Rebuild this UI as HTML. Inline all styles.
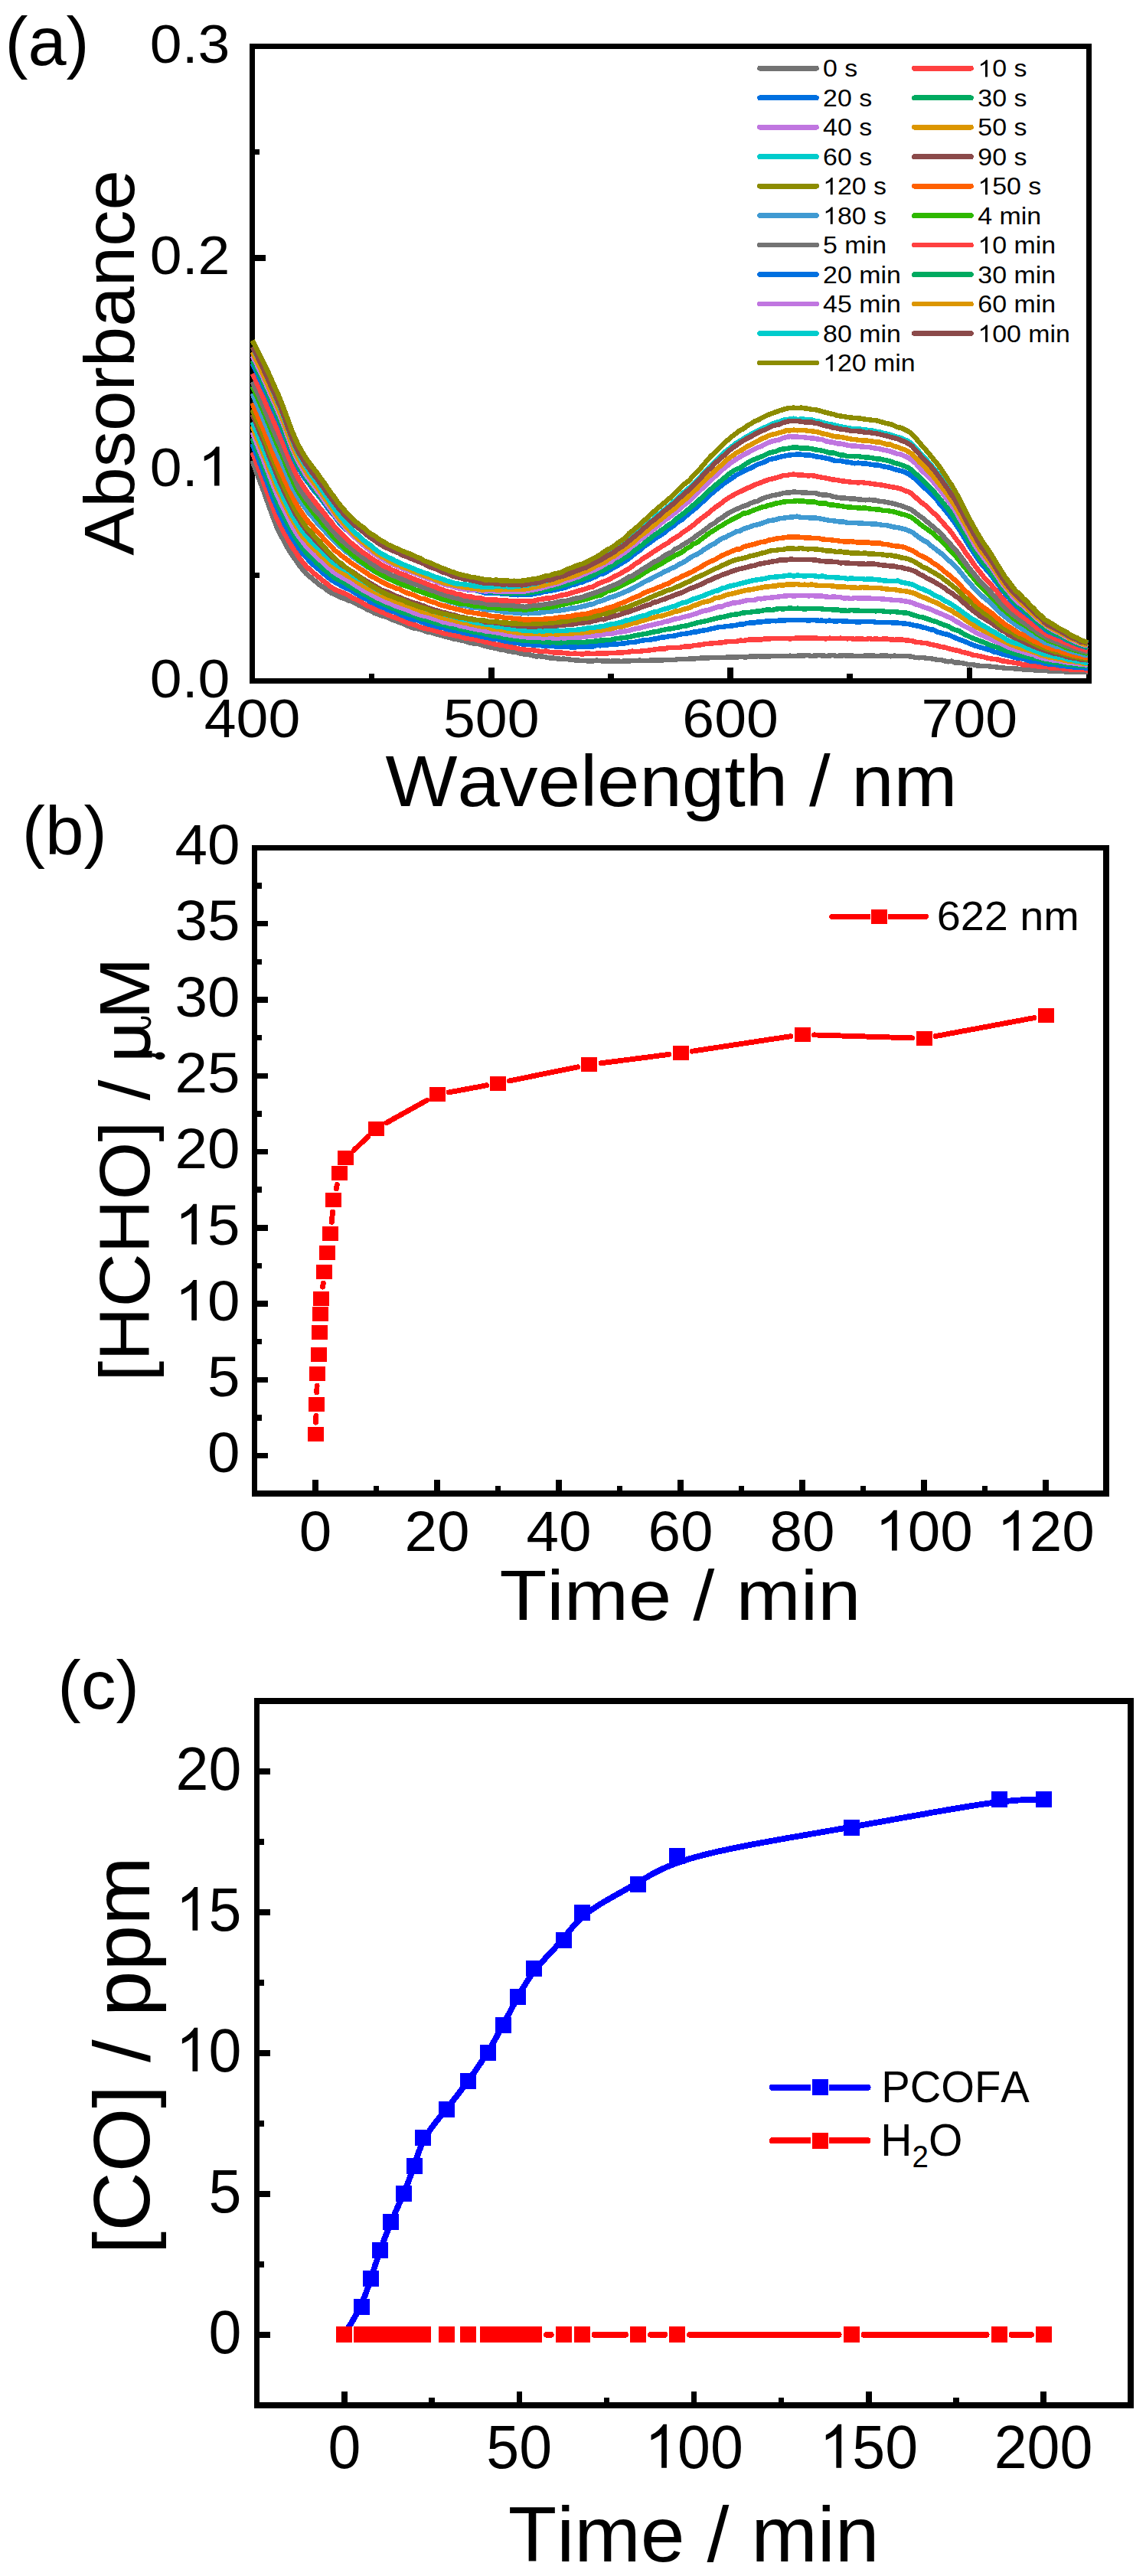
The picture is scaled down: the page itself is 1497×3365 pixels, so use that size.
<!DOCTYPE html><html><head><meta charset="utf-8"><style>html,body{margin:0;padding:0;background:#fff;}svg{display:block;}text{font-family:"Liberation Sans",sans-serif;font-kerning:none;font-variant-ligatures:none;fill:#000;}</style></head><body>
<svg width="1497" height="3365" viewBox="0 0 1497 3365" shape-rendering="crispEdges">
<rect width="1497" height="3365" fill="#fff"/>
<rect x="329.50" y="60.50" width="1093.00" height="829.00" fill="none" stroke="#000" stroke-width="7.50" stroke-linejoin="miter"/>
<rect x="638.04" y="871.75" width="7.50" height="17.75"/>
<rect x="950.32" y="871.75" width="7.50" height="17.75"/>
<rect x="1262.61" y="871.75" width="7.50" height="17.75"/>
<rect x="481.89" y="879.75" width="7.50" height="9.75"/>
<rect x="794.18" y="879.75" width="7.50" height="9.75"/>
<rect x="1106.46" y="879.75" width="7.50" height="9.75"/>
<rect x="329.50" y="609.42" width="17.75" height="7.50"/>
<rect x="329.50" y="333.08" width="17.75" height="7.50"/>
<rect x="329.50" y="747.58" width="9.75" height="7.50"/>
<rect x="329.50" y="471.25" width="9.75" height="7.50"/>
<rect x="329.50" y="194.92" width="9.75" height="7.50"/>
<g transform="translate(300.40,910.84) scale(1.0550,1)"><text x="-99.12" y="0.00" font-size="71.30">0.0</text></g>
<g transform="translate(300.40,634.51) scale(1.0550,1)"><text x="-99.12" y="0.00" font-size="71.30">0.</text><path shape-rendering="geometricPrecision" transform="translate(-39.65,0.00) scale(0.03481,-0.03481)" d="M763,0L583,0L583,1147Q520,1087 418,1027Q316,967 222,930L222,1104Q370,1173 481,1274Q592,1375 646,1466L763,1466Z"/></g>
<g transform="translate(300.40,358.17) scale(1.0550,1)"><text x="-99.12" y="0.00" font-size="71.30">0.2</text></g>
<g transform="translate(300.40,81.84) scale(1.0550,1)"><text x="-99.12" y="0.00" font-size="71.30">0.3</text></g>
<g transform="translate(329.50,962.70) scale(1.0550,1)"><text x="-59.48" y="0.00" font-size="71.30">400</text></g>
<g transform="translate(641.79,962.70) scale(1.0550,1)"><text x="-59.48" y="0.00" font-size="71.30">500</text></g>
<g transform="translate(954.07,962.70) scale(1.0550,1)"><text x="-59.48" y="0.00" font-size="71.30">600</text></g>
<g transform="translate(1266.36,962.70) scale(1.0550,1)"><text x="-59.48" y="0.00" font-size="71.30">700</text></g>
<g transform="translate(503.56,1053.10) scale(1.0593,1)"><text x="0.00" y="0.00" font-size="93.98">Wavelength / nm</text></g>
<g transform="translate(175.09,725.68) rotate(-90) scale(1.0162,1)"><text x="0.00" y="0.00" font-size="92.87">Absorbance</text></g>
<g transform="translate(6.41,84.56) scale(1.0119,1)"><text x="0.00" y="0.00" font-size="89.09">(a)</text></g>
<g fill="none" stroke-width="6.5" stroke-linejoin="round" stroke-linecap="butt">
<polyline stroke="#737373" points="329.5,601.6 334.2,614.8 338.9,627.2 343.6,639.6 348.2,652.6 352.9,665.5 357.6,678.3 362.3,690.4 367.0,699.4 371.7,708.3 376.3,716.8 381.0,724.1 385.7,730.9 390.4,737.8 395.1,743.8 399.8,749.3 404.4,753.0 409.1,757.1 413.8,760.7 418.5,764.9 423.2,767.5 427.9,771.4 432.6,774.6 437.2,776.3 441.9,778.9 446.6,781.0 451.3,782.3 456.0,784.8 460.7,785.9 465.3,788.7 470.0,791.2 474.7,793.0 479.4,796.2 484.1,797.7 488.8,800.6 493.4,802.2 498.1,804.3 502.8,805.3 507.5,807.1 512.2,809.6 516.9,811.0 521.6,813.1 526.2,814.6 530.9,816.8 535.6,818.8 540.3,820.4 545.0,821.2 549.7,822.1 554.3,824.1 559.0,825.7 563.7,826.2 568.4,828.0 573.1,829.3 577.8,830.4 582.5,831.7 587.1,832.9 591.8,834.4 596.5,834.9 601.2,836.2 605.9,836.9 610.6,838.5 615.2,840.0 619.9,840.5 624.6,840.9 629.3,842.6 634.0,843.9 638.7,845.0 643.3,846.1 648.0,846.9 652.7,848.3 657.4,848.5 662.1,850.2 666.8,851.1 671.5,851.6 676.1,852.5 680.8,853.9 685.5,854.5 690.2,855.1 694.9,856.1 699.6,857.4 704.2,857.2 708.9,857.7 713.6,858.5 718.3,859.5 723.0,859.7 727.7,860.3 732.3,860.8 737.0,860.7 741.7,861.1 746.4,861.9 751.1,862.3 755.8,862.6 760.5,863.1 765.1,863.2 769.8,863.5 774.5,863.4 779.2,862.6 783.9,863.1 788.6,863.6 793.2,863.6 797.9,863.8 802.6,863.4 807.3,863.4 812.0,864.0 816.7,863.3 821.4,863.6 826.0,862.9 830.7,863.2 835.4,862.6 840.1,863.2 844.8,863.0 849.5,862.6 854.1,862.3 858.8,862.3 863.5,862.7 868.2,862.1 872.9,862.0 877.6,861.9 882.2,861.8 886.9,860.8 891.6,861.2 896.3,861.2 901.0,860.4 905.7,860.4 910.4,860.2 915.0,859.7 919.7,859.6 924.4,859.5 929.1,859.1 933.8,859.1 938.5,859.2 943.1,859.0 947.8,858.8 952.5,858.4 957.2,858.6 961.9,858.7 966.6,857.9 971.2,858.3 975.9,858.3 980.6,857.4 985.3,857.7 990.0,857.2 994.7,857.4 999.4,857.5 1004.0,857.5 1008.7,857.1 1013.4,857.0 1018.1,857.1 1022.8,856.8 1027.5,857.2 1032.1,856.6 1036.8,857.2 1041.5,856.7 1046.2,856.4 1050.9,856.3 1055.6,856.0 1060.2,857.1 1064.9,856.4 1069.6,856.2 1074.3,856.3 1079.0,856.9 1083.7,856.5 1088.4,856.0 1093.0,857.1 1097.7,856.5 1102.4,856.2 1107.1,856.8 1111.8,856.4 1116.5,857.0 1121.1,856.9 1125.8,856.9 1130.5,856.6 1135.2,856.7 1139.9,856.4 1144.6,857.0 1149.2,856.8 1153.9,856.4 1158.6,856.6 1163.3,857.3 1168.0,856.6 1172.7,857.1 1177.4,856.9 1182.0,857.1 1186.7,857.1 1191.4,857.9 1196.1,859.0 1200.8,859.3 1205.5,859.0 1210.1,859.8 1214.8,859.9 1219.5,860.9 1224.2,861.8 1228.9,861.9 1233.6,863.2 1238.3,864.3 1242.9,863.7 1247.6,865.7 1252.3,865.6 1257.0,866.2 1261.7,867.2 1266.4,868.3 1271.0,868.0 1275.7,869.3 1280.4,869.8 1285.1,870.0 1289.8,870.1 1294.5,870.7 1299.1,871.0 1303.8,871.8 1308.5,872.1 1313.2,872.9 1317.9,873.0 1322.6,873.0 1327.3,873.7 1331.9,873.8 1336.6,874.5 1341.3,874.8 1346.0,874.9 1350.7,875.3 1355.4,875.3 1360.0,875.8 1364.7,875.5 1369.4,876.4 1374.1,876.7 1378.8,877.1 1383.5,877.0 1388.1,877.0 1392.8,877.6 1397.5,877.5 1402.2,877.4 1406.9,877.9 1411.6,878.1 1416.3,877.7 1420.9,878.1"/>
<polyline stroke="#FF4040" points="329.5,591.0 334.2,603.0 338.9,615.4 343.6,628.2 348.2,640.7 352.9,653.4 357.6,666.2 362.3,678.4 367.0,687.3 371.7,696.8 376.3,705.1 381.0,713.6 385.7,720.2 390.4,727.7 395.1,733.8 399.8,739.5 404.4,743.8 409.1,748.0 413.8,751.9 418.5,755.6 423.2,759.6 427.9,763.1 432.6,767.0 437.2,770.0 441.9,771.9 446.6,773.8 451.3,775.6 456.0,777.9 460.7,781.2 465.3,783.0 470.0,785.2 474.7,788.3 479.4,791.0 484.1,793.1 488.8,795.5 493.4,797.3 498.1,799.6 502.8,801.1 507.5,803.4 512.2,805.6 516.9,807.0 521.6,808.7 526.2,811.0 530.9,812.7 535.6,815.0 540.3,815.5 545.0,817.6 549.7,819.5 554.3,820.8 559.0,821.6 563.7,822.6 568.4,824.1 573.1,825.1 577.8,826.8 582.5,828.0 587.1,828.4 591.8,829.6 596.5,830.9 601.2,831.5 605.9,833.2 610.6,834.0 615.2,834.5 619.9,835.2 624.6,836.7 629.3,837.1 634.0,838.8 638.7,839.4 643.3,840.5 648.0,842.0 652.7,842.4 657.4,843.1 662.1,844.4 666.8,845.3 671.5,845.6 676.1,847.3 680.8,848.1 685.5,848.5 690.2,849.2 694.9,849.0 699.6,849.8 704.2,850.7 708.9,851.1 713.6,850.4 718.3,851.9 723.0,852.3 727.7,852.3 732.3,852.5 737.0,853.0 741.7,853.6 746.4,854.0 751.1,853.6 755.8,854.0 760.5,854.6 765.1,853.7 769.8,853.7 774.5,853.9 779.2,853.7 783.9,853.4 788.6,853.6 793.2,853.6 797.9,852.8 802.6,853.2 807.3,852.4 812.0,852.7 816.7,852.0 821.4,851.7 826.0,850.7 830.7,851.2 835.4,850.9 840.1,850.2 844.8,849.9 849.5,849.3 854.1,848.6 858.8,848.0 863.5,847.3 868.2,847.7 872.9,846.1 877.6,845.8 882.2,846.1 886.9,846.2 891.6,845.0 896.3,844.4 901.0,844.6 905.7,843.3 910.4,842.8 915.0,842.5 919.7,841.4 924.4,840.8 929.1,840.7 933.8,840.0 938.5,839.7 943.1,839.3 947.8,838.5 952.5,837.9 957.2,837.8 961.9,837.9 966.6,836.6 971.2,837.0 975.9,836.1 980.6,835.2 985.3,835.5 990.0,835.6 994.7,835.5 999.4,834.3 1004.0,834.5 1008.7,834.1 1013.4,833.8 1018.1,833.9 1022.8,833.8 1027.5,833.9 1032.1,834.5 1036.8,833.9 1041.5,833.5 1046.2,833.5 1050.9,833.4 1055.6,833.6 1060.2,833.5 1064.9,833.4 1069.6,834.0 1074.3,833.9 1079.0,834.4 1083.7,833.7 1088.4,834.0 1093.0,834.0 1097.7,833.7 1102.4,833.9 1107.1,834.3 1111.8,834.1 1116.5,834.9 1121.1,834.3 1125.8,834.4 1130.5,835.1 1135.2,834.1 1139.9,834.9 1144.6,834.5 1149.2,835.0 1153.9,834.6 1158.6,834.6 1163.3,835.4 1168.0,835.8 1172.7,835.5 1177.4,835.4 1182.0,836.2 1186.7,836.7 1191.4,837.0 1196.1,838.8 1200.8,838.9 1205.5,840.0 1210.1,840.2 1214.8,841.5 1219.5,842.6 1224.2,843.4 1228.9,844.9 1233.6,845.5 1238.3,846.9 1242.9,848.0 1247.6,849.3 1252.3,850.1 1257.0,851.8 1261.7,852.8 1266.4,854.0 1271.0,855.6 1275.7,856.2 1280.4,857.3 1285.1,858.3 1289.8,859.5 1294.5,860.4 1299.1,861.0 1303.8,861.5 1308.5,863.4 1313.2,863.8 1317.9,864.9 1322.6,865.3 1327.3,866.2 1331.9,866.6 1336.6,868.5 1341.3,868.4 1346.0,869.2 1350.7,869.6 1355.4,870.4 1360.0,870.9 1364.7,871.0 1369.4,871.1 1374.1,873.1 1378.8,872.7 1383.5,872.9 1388.1,873.3 1392.8,873.8 1397.5,874.5 1402.2,874.7 1406.9,874.4 1411.6,874.6 1416.3,875.1 1420.9,875.6"/>
<polyline stroke="#0070E0" points="329.5,579.7 334.2,591.9 338.9,603.7 343.6,615.9 348.2,628.4 352.9,640.9 357.6,653.8 362.3,664.7 367.0,674.6 371.7,684.8 376.3,693.1 381.0,701.8 385.7,708.9 390.4,716.0 395.1,722.8 399.8,727.8 404.4,733.1 409.1,737.6 413.8,741.7 418.5,745.6 423.2,749.8 427.9,753.7 432.6,757.6 437.2,760.2 441.9,762.8 446.6,765.6 451.3,768.2 456.0,769.9 460.7,772.4 465.3,775.5 470.0,778.5 474.7,780.7 479.4,782.9 484.1,786.5 488.8,788.0 493.4,790.5 498.1,792.9 502.8,794.5 507.5,797.0 512.2,798.4 516.9,799.9 521.6,802.1 526.2,804.2 530.9,806.3 535.6,807.8 540.3,809.7 545.0,810.1 549.7,812.2 554.3,813.9 559.0,815.4 563.7,816.6 568.4,817.7 573.1,819.3 577.8,819.5 582.5,821.5 587.1,822.7 591.8,823.5 596.5,824.2 601.2,825.3 605.9,826.9 610.6,827.6 615.2,828.6 619.9,829.4 624.6,830.4 629.3,831.7 634.0,832.7 638.7,833.2 643.3,834.5 648.0,834.6 652.7,835.9 657.4,837.2 662.1,837.8 666.8,838.7 671.5,839.4 676.1,839.8 680.8,841.2 685.5,841.9 690.2,841.7 694.9,842.3 699.6,842.6 704.2,842.9 708.9,843.4 713.6,843.4 718.3,844.2 723.0,844.1 727.7,844.6 732.3,844.9 737.0,844.5 741.7,844.6 746.4,845.6 751.1,845.4 755.8,844.9 760.5,844.5 765.1,844.9 769.8,844.5 774.5,844.6 779.2,843.0 783.9,843.3 788.6,842.8 793.2,842.5 797.9,841.9 802.6,841.6 807.3,841.4 812.0,840.6 816.7,840.3 821.4,839.2 826.0,839.2 830.7,838.5 835.4,837.4 840.1,836.4 844.8,836.1 849.5,835.6 854.1,834.7 858.8,834.1 863.5,832.6 868.2,832.3 872.9,831.4 877.6,830.9 882.2,830.4 886.9,829.0 891.6,828.1 896.3,827.6 901.0,826.9 905.7,825.7 910.4,825.3 915.0,824.0 919.7,823.5 924.4,822.7 929.1,821.3 933.8,820.5 938.5,819.2 943.1,819.1 947.8,818.2 952.5,817.8 957.2,817.3 961.9,816.7 966.6,815.3 971.2,815.3 975.9,814.0 980.6,813.4 985.3,813.5 990.0,812.4 994.7,812.4 999.4,811.7 1004.0,811.7 1008.7,811.0 1013.4,811.3 1018.1,810.5 1022.8,810.6 1027.5,810.2 1032.1,809.8 1036.8,809.9 1041.5,810.0 1046.2,809.8 1050.9,809.9 1055.6,810.7 1060.2,810.1 1064.9,810.2 1069.6,810.8 1074.3,810.6 1079.0,811.4 1083.7,810.6 1088.4,811.3 1093.0,811.4 1097.7,811.1 1102.4,811.7 1107.1,811.6 1111.8,812.2 1116.5,812.2 1121.1,812.5 1125.8,812.2 1130.5,811.9 1135.2,812.2 1139.9,812.1 1144.6,812.9 1149.2,813.0 1153.9,813.0 1158.6,812.9 1163.3,813.2 1168.0,813.5 1172.7,813.6 1177.4,814.2 1182.0,814.7 1186.7,814.9 1191.4,816.3 1196.1,817.2 1200.8,817.9 1205.5,819.5 1210.1,820.5 1214.8,822.2 1219.5,822.7 1224.2,825.5 1228.9,826.7 1233.6,828.2 1238.3,828.9 1242.9,831.0 1247.6,833.0 1252.3,835.2 1257.0,836.6 1261.7,838.6 1266.4,840.6 1271.0,842.6 1275.7,844.2 1280.4,845.4 1285.1,846.8 1289.8,848.2 1294.5,849.7 1299.1,851.7 1303.8,852.6 1308.5,854.4 1313.2,855.4 1317.9,856.5 1322.6,858.1 1327.3,859.3 1331.9,859.6 1336.6,860.7 1341.3,862.0 1346.0,863.8 1350.7,863.8 1355.4,864.5 1360.0,865.2 1364.7,866.6 1369.4,867.4 1374.1,867.9 1378.8,868.1 1383.5,869.3 1388.1,869.5 1392.8,870.3 1397.5,870.5 1402.2,871.5 1406.9,871.3 1411.6,872.0 1416.3,872.3 1420.9,872.4"/>
<polyline stroke="#00AA60" points="329.5,571.9 334.2,584.8 338.9,595.8 343.6,607.9 348.2,620.3 352.9,632.4 357.6,645.1 362.3,656.2 367.0,667.0 371.7,676.6 376.3,684.9 381.0,693.1 385.7,701.6 390.4,708.8 395.1,715.7 399.8,721.6 404.4,726.1 409.1,730.0 413.8,735.4 418.5,739.2 423.2,743.9 427.9,747.4 432.6,751.0 437.2,755.0 441.9,757.5 446.6,759.5 451.3,762.4 456.0,765.4 460.7,768.1 465.3,771.1 470.0,772.9 474.7,776.2 479.4,778.2 484.1,780.8 488.8,783.7 493.4,786.0 498.1,787.8 502.8,790.0 507.5,792.0 512.2,794.5 516.9,795.5 521.6,798.0 526.2,800.2 530.9,801.5 535.6,802.8 540.3,804.0 545.0,806.4 549.7,808.2 554.3,808.5 559.0,810.6 563.7,812.1 568.4,813.7 573.1,815.0 577.8,815.5 582.5,817.3 587.1,818.5 591.8,819.7 596.5,820.1 601.2,821.9 605.9,822.5 610.6,823.6 615.2,824.6 619.9,825.9 624.6,826.3 629.3,826.8 634.0,828.3 638.7,829.4 643.3,830.4 648.0,830.8 652.7,831.8 657.4,832.6 662.1,833.4 666.8,834.7 671.5,834.7 676.1,835.6 680.8,836.3 685.5,836.7 690.2,836.9 694.9,837.6 699.6,838.2 704.2,837.8 708.9,838.6 713.6,838.9 718.3,839.4 723.0,839.0 727.7,839.5 732.3,839.4 737.0,839.1 741.7,839.3 746.4,839.0 751.1,839.2 755.8,839.3 760.5,839.0 765.1,838.8 769.8,838.1 774.5,837.9 779.2,837.5 783.9,836.6 788.6,836.4 793.2,836.0 797.9,835.8 802.6,834.6 807.3,834.0 812.0,833.4 816.7,832.9 821.4,832.2 826.0,831.1 830.7,830.1 835.4,829.3 840.1,828.4 844.8,827.6 849.5,826.4 854.1,825.5 858.8,824.9 863.5,823.6 868.2,822.6 872.9,821.7 877.6,821.1 882.2,820.1 886.9,819.4 891.6,817.8 896.3,817.7 901.0,816.1 905.7,815.0 910.4,813.5 915.0,812.6 919.7,811.7 924.4,810.7 929.1,809.4 933.8,808.1 938.5,807.0 943.1,806.1 947.8,805.2 952.5,804.1 957.2,802.8 961.9,802.7 966.6,801.6 971.2,800.4 975.9,800.1 980.6,799.8 985.3,798.8 990.0,798.7 994.7,797.9 999.4,796.9 1004.0,796.3 1008.7,797.0 1013.4,795.8 1018.1,795.0 1022.8,795.5 1027.5,795.0 1032.1,794.4 1036.8,795.0 1041.5,794.7 1046.2,794.9 1050.9,795.6 1055.6,795.0 1060.2,795.2 1064.9,795.0 1069.6,794.8 1074.3,795.5 1079.0,796.1 1083.7,796.1 1088.4,796.4 1093.0,796.3 1097.7,797.3 1102.4,797.4 1107.1,797.9 1111.8,797.1 1116.5,797.4 1121.1,797.7 1125.8,797.9 1130.5,797.9 1135.2,798.1 1139.9,798.1 1144.6,798.3 1149.2,797.9 1153.9,798.5 1158.6,799.1 1163.3,799.3 1168.0,799.0 1172.7,799.6 1177.4,800.1 1182.0,800.5 1186.7,801.0 1191.4,802.9 1196.1,804.1 1200.8,805.8 1205.5,806.5 1210.1,808.1 1214.8,809.7 1219.5,811.3 1224.2,812.6 1228.9,814.7 1233.6,816.6 1238.3,817.9 1242.9,820.7 1247.6,822.9 1252.3,823.8 1257.0,827.1 1261.7,829.5 1266.4,831.7 1271.0,833.7 1275.7,835.5 1280.4,837.4 1285.1,839.2 1289.8,841.1 1294.5,843.2 1299.1,844.5 1303.8,845.9 1308.5,847.8 1313.2,849.9 1317.9,851.1 1322.6,853.0 1327.3,854.2 1331.9,855.8 1336.6,856.6 1341.3,857.6 1346.0,858.9 1350.7,859.8 1355.4,860.5 1360.0,861.8 1364.7,863.4 1369.4,864.4 1374.1,865.1 1378.8,865.9 1383.5,866.2 1388.1,866.8 1392.8,867.6 1397.5,868.2 1402.2,868.8 1406.9,869.4 1411.6,870.1 1416.3,869.8 1420.9,870.4"/>
<polyline stroke="#C076E0" points="329.5,564.5 334.2,576.2 338.9,587.9 343.6,599.4 348.2,611.1 352.9,623.6 357.6,635.8 362.3,647.2 367.0,657.4 371.7,667.3 376.3,676.6 381.0,685.6 385.7,694.3 390.4,701.3 395.1,707.2 399.8,713.7 404.4,718.8 409.1,722.9 413.8,727.6 418.5,732.1 423.2,735.9 427.9,740.6 432.6,744.6 437.2,748.5 441.9,751.3 446.6,754.1 451.3,756.6 456.0,759.2 460.7,762.1 465.3,765.3 470.0,768.0 474.7,771.4 479.4,773.5 484.1,776.1 488.8,778.9 493.4,781.5 498.1,783.5 502.8,786.0 507.5,787.5 512.2,789.5 516.9,791.8 521.6,793.3 526.2,794.7 530.9,796.5 535.6,798.3 540.3,800.4 545.0,802.0 549.7,803.6 554.3,804.8 559.0,805.6 563.7,807.3 568.4,808.7 573.1,810.1 577.8,812.4 582.5,813.1 587.1,814.4 591.8,815.0 596.5,816.0 601.2,817.8 605.9,818.6 610.6,819.4 615.2,820.7 619.9,821.6 624.6,822.5 629.3,822.9 634.0,824.3 638.7,824.4 643.3,825.6 648.0,826.2 652.7,826.7 657.4,828.3 662.1,829.1 666.8,829.4 671.5,830.6 676.1,831.1 680.8,831.5 685.5,831.9 690.2,832.7 694.9,832.7 699.6,832.6 704.2,832.5 708.9,833.8 713.6,832.8 718.3,833.0 723.0,833.7 727.7,833.8 732.3,833.2 737.0,833.4 741.7,833.2 746.4,832.8 751.1,833.0 755.8,832.6 760.5,832.2 765.1,831.7 769.8,830.9 774.5,830.4 779.2,830.3 783.9,829.8 788.6,828.3 793.2,828.2 797.9,827.5 802.6,827.2 807.3,825.8 812.0,825.5 816.7,824.5 821.4,823.8 826.0,822.4 830.7,821.1 835.4,820.5 840.1,819.2 844.8,817.8 849.5,817.0 854.1,815.9 858.8,814.7 863.5,813.8 868.2,812.0 872.9,811.4 877.6,809.7 882.2,808.4 886.9,807.9 891.6,806.3 896.3,805.2 901.0,804.1 905.7,802.6 910.4,801.2 915.0,799.4 919.7,797.9 924.4,797.2 929.1,795.6 933.8,794.0 938.5,792.5 943.1,792.4 947.8,790.0 952.5,789.3 957.2,787.6 961.9,787.3 966.6,786.5 971.2,785.4 975.9,784.2 980.6,783.8 985.3,783.9 990.0,782.2 994.7,782.3 999.4,781.4 1004.0,780.9 1008.7,780.6 1013.4,779.9 1018.1,779.4 1022.8,778.8 1027.5,778.3 1032.1,778.1 1036.8,778.5 1041.5,778.1 1046.2,777.8 1050.9,777.9 1055.6,778.3 1060.2,778.2 1064.9,778.3 1069.6,778.4 1074.3,778.6 1079.0,779.6 1083.7,779.9 1088.4,779.6 1093.0,779.8 1097.7,780.1 1102.4,781.6 1107.1,781.1 1111.8,782.2 1116.5,781.1 1121.1,781.4 1125.8,781.5 1130.5,781.7 1135.2,781.4 1139.9,782.1 1144.6,781.8 1149.2,782.2 1153.9,782.6 1158.6,782.9 1163.3,783.4 1168.0,784.2 1172.7,784.0 1177.4,784.5 1182.0,785.5 1186.7,786.0 1191.4,787.1 1196.1,789.4 1200.8,790.7 1205.5,792.5 1210.1,794.2 1214.8,795.5 1219.5,797.8 1224.2,799.7 1228.9,801.6 1233.6,803.7 1238.3,805.9 1242.9,807.6 1247.6,811.0 1252.3,813.4 1257.0,816.6 1261.7,818.8 1266.4,821.2 1271.0,823.8 1275.7,826.9 1280.4,829.1 1285.1,830.7 1289.8,833.1 1294.5,834.8 1299.1,837.6 1303.8,839.1 1308.5,841.3 1313.2,843.5 1317.9,845.8 1322.6,847.4 1327.3,848.9 1331.9,850.2 1336.6,851.7 1341.3,853.1 1346.0,854.4 1350.7,855.4 1355.4,857.9 1360.0,859.0 1364.7,860.3 1369.4,861.1 1374.1,862.3 1378.8,862.4 1383.5,863.3 1388.1,864.2 1392.8,865.2 1397.5,865.7 1402.2,866.4 1406.9,867.0 1411.6,867.9 1416.3,868.0 1420.9,869.2"/>
<polyline stroke="#DC9600" points="329.5,556.5 334.2,569.5 338.9,580.3 343.6,592.1 348.2,603.3 352.9,616.3 357.6,627.3 362.3,639.8 367.0,648.8 371.7,659.2 376.3,668.8 381.0,677.6 385.7,685.4 390.4,693.4 395.1,701.1 399.8,705.7 404.4,711.2 409.1,716.5 413.8,720.1 418.5,725.2 423.2,729.3 427.9,733.7 432.6,738.2 437.2,741.4 441.9,745.2 446.6,747.7 451.3,750.7 456.0,753.4 460.7,755.6 465.3,759.1 470.0,762.4 474.7,765.0 479.4,767.9 484.1,770.3 488.8,772.7 493.4,775.2 498.1,777.5 502.8,779.8 507.5,781.5 512.2,783.3 516.9,785.7 521.6,787.3 526.2,789.1 530.9,790.6 535.6,792.4 540.3,794.7 545.0,796.1 549.7,798.2 554.3,799.6 559.0,800.7 563.7,802.0 568.4,803.4 573.1,805.3 577.8,807.0 582.5,807.7 587.1,809.1 591.8,810.2 596.5,811.5 601.2,812.4 605.9,813.5 610.6,814.4 615.2,815.8 619.9,816.3 624.6,817.7 629.3,818.4 634.0,818.7 638.7,820.0 643.3,821.4 648.0,821.3 652.7,822.3 657.4,823.1 662.1,824.2 666.8,824.8 671.5,825.7 676.1,826.5 680.8,826.3 685.5,827.4 690.2,827.8 694.9,828.0 699.6,827.4 704.2,827.9 708.9,828.4 713.6,828.3 718.3,828.2 723.0,828.0 727.7,828.8 732.3,827.8 737.0,828.1 741.7,828.1 746.4,827.7 751.1,827.1 755.8,826.4 760.5,826.5 765.1,825.9 769.8,825.8 774.5,824.7 779.2,823.9 783.9,823.9 788.6,822.8 793.2,821.6 797.9,821.6 802.6,820.2 807.3,818.9 812.0,818.7 816.7,817.2 821.4,815.9 826.0,814.3 830.7,813.8 835.4,811.7 840.1,810.6 844.8,809.0 849.5,807.7 854.1,806.6 858.8,805.3 863.5,804.8 868.2,803.4 872.9,802.0 877.6,800.4 882.2,798.6 886.9,798.1 891.6,796.2 896.3,795.1 901.0,793.7 905.7,791.2 910.4,790.1 915.0,787.9 919.7,786.4 924.4,785.5 929.1,784.2 933.8,781.4 938.5,780.7 943.1,779.5 947.8,777.5 952.5,776.3 957.2,775.4 961.9,774.1 966.6,772.9 971.2,771.9 975.9,770.8 980.6,770.3 985.3,769.4 990.0,768.3 994.7,767.6 999.4,766.6 1004.0,766.4 1008.7,765.7 1013.4,765.5 1018.1,764.1 1022.8,764.6 1027.5,763.6 1032.1,763.7 1036.8,763.3 1041.5,763.2 1046.2,764.0 1050.9,763.7 1055.6,764.3 1060.2,763.5 1064.9,764.3 1069.6,765.0 1074.3,765.1 1079.0,764.8 1083.7,765.1 1088.4,765.5 1093.0,766.5 1097.7,766.5 1102.4,766.2 1107.1,767.2 1111.8,767.3 1116.5,767.6 1121.1,767.9 1125.8,767.2 1130.5,767.5 1135.2,767.8 1139.9,767.9 1144.6,768.0 1149.2,768.1 1153.9,769.0 1158.6,769.5 1163.3,770.1 1168.0,769.9 1172.7,770.9 1177.4,771.8 1182.0,772.2 1186.7,773.0 1191.4,774.1 1196.1,775.8 1200.8,778.3 1205.5,780.1 1210.1,781.8 1214.8,784.0 1219.5,785.8 1224.2,787.9 1228.9,790.4 1233.6,793.4 1238.3,795.7 1242.9,797.5 1247.6,801.1 1252.3,803.5 1257.0,806.7 1261.7,810.1 1266.4,813.3 1271.0,815.9 1275.7,819.2 1280.4,821.6 1285.1,823.8 1289.8,826.4 1294.5,828.6 1299.1,831.1 1303.8,834.0 1308.5,836.1 1313.2,838.5 1317.9,841.1 1322.6,842.6 1327.3,844.4 1331.9,846.1 1336.6,848.1 1341.3,848.7 1346.0,850.4 1350.7,852.1 1355.4,853.7 1360.0,855.7 1364.7,856.7 1369.4,858.3 1374.1,858.3 1378.8,860.1 1383.5,860.6 1388.1,862.2 1392.8,863.0 1397.5,863.7 1402.2,864.1 1406.9,864.9 1411.6,865.7 1416.3,867.0 1420.9,866.6"/>
<polyline stroke="#00CCCC" points="329.5,551.4 334.2,561.9 338.9,573.3 343.6,585.1 348.2,596.8 352.9,609.7 357.6,620.4 362.3,632.5 367.0,642.4 371.7,653.0 376.3,662.3 381.0,671.8 385.7,680.0 390.4,687.5 395.1,694.1 399.8,699.6 404.4,705.0 409.1,709.8 413.8,714.4 418.5,718.2 423.2,723.7 427.9,727.6 432.6,732.9 437.2,736.3 441.9,739.2 446.6,742.4 451.3,744.2 456.0,747.2 460.7,751.5 465.3,754.3 470.0,756.9 474.7,759.2 479.4,762.1 484.1,765.0 488.8,768.1 493.4,770.3 498.1,773.3 502.8,775.0 507.5,776.4 512.2,778.2 516.9,780.8 521.6,782.2 526.2,783.5 530.9,785.8 535.6,787.8 540.3,789.2 545.0,790.9 549.7,792.7 554.3,794.5 559.0,796.0 563.7,797.4 568.4,799.2 573.1,800.1 577.8,801.7 582.5,803.0 587.1,804.0 591.8,805.4 596.5,806.7 601.2,808.3 605.9,809.6 610.6,809.8 615.2,811.8 619.9,812.8 624.6,813.9 629.3,814.4 634.0,815.3 638.7,815.9 643.3,817.2 648.0,818.5 652.7,818.7 657.4,819.3 662.1,820.4 666.8,821.2 671.5,821.7 676.1,822.0 680.8,823.1 685.5,823.9 690.2,824.0 694.9,824.1 699.6,824.7 704.2,824.0 708.9,824.5 713.6,824.1 718.3,824.2 723.0,824.3 727.7,823.5 732.3,824.1 737.0,823.9 741.7,823.4 746.4,822.9 751.1,822.8 755.8,822.7 760.5,821.7 765.1,821.2 769.8,820.0 774.5,820.1 779.2,819.1 783.9,818.5 788.6,818.0 793.2,816.5 797.9,815.3 802.6,814.9 807.3,813.7 812.0,812.8 816.7,810.7 821.4,810.1 826.0,808.3 830.7,807.3 835.4,805.5 840.1,804.3 844.8,803.4 849.5,801.1 854.1,799.5 858.8,799.0 863.5,796.9 868.2,795.6 872.9,794.4 877.6,792.6 882.2,791.6 886.9,789.4 891.6,787.5 896.3,786.7 901.0,784.7 905.7,782.5 910.4,781.2 915.0,779.6 919.7,777.9 924.4,775.7 929.1,774.1 933.8,772.1 938.5,771.2 943.1,768.7 947.8,767.6 952.5,765.8 957.2,764.9 961.9,763.8 966.6,762.4 971.2,761.4 975.9,760.2 980.6,758.9 985.3,757.9 990.0,757.2 994.7,756.6 999.4,755.7 1004.0,754.6 1008.7,753.8 1013.4,753.7 1018.1,753.0 1022.8,752.7 1027.5,751.9 1032.1,751.4 1036.8,752.6 1041.5,751.6 1046.2,751.9 1050.9,752.7 1055.6,751.9 1060.2,752.2 1064.9,752.3 1069.6,753.3 1074.3,752.5 1079.0,753.6 1083.7,754.2 1088.4,754.0 1093.0,754.6 1097.7,754.8 1102.4,755.0 1107.1,756.3 1111.8,755.3 1116.5,756.2 1121.1,756.1 1125.8,756.1 1130.5,756.8 1135.2,756.6 1139.9,756.7 1144.6,757.2 1149.2,757.4 1153.9,758.4 1158.6,758.7 1163.3,759.2 1168.0,759.2 1172.7,758.6 1177.4,760.4 1182.0,761.4 1186.7,762.4 1191.4,763.5 1196.1,765.5 1200.8,768.2 1205.5,769.5 1210.1,771.8 1214.8,773.6 1219.5,776.9 1224.2,779.2 1228.9,781.1 1233.6,784.6 1238.3,786.6 1242.9,789.5 1247.6,792.6 1252.3,795.8 1257.0,799.3 1261.7,802.7 1266.4,806.2 1271.0,809.4 1275.7,811.6 1280.4,815.1 1285.1,817.9 1289.8,820.4 1294.5,823.4 1299.1,825.8 1303.8,828.8 1308.5,831.2 1313.2,834.3 1317.9,837.2 1322.6,838.8 1327.3,840.4 1331.9,841.6 1336.6,843.7 1341.3,846.1 1346.0,847.6 1350.7,849.7 1355.4,851.2 1360.0,853.0 1364.7,854.8 1369.4,855.5 1374.1,856.7 1378.8,857.8 1383.5,858.6 1388.1,859.1 1392.8,860.8 1397.5,861.9 1402.2,862.4 1406.9,864.0 1411.6,864.0 1416.3,865.2 1420.9,865.8"/>
<polyline stroke="#8B4A4A" points="329.5,541.2 334.2,551.9 338.9,564.0 343.6,574.8 348.2,586.6 352.9,599.2 357.6,610.3 362.3,622.1 367.0,632.8 371.7,642.8 376.3,652.8 381.0,661.9 385.7,671.2 390.4,678.4 395.1,685.7 399.8,692.1 404.4,697.6 409.1,702.2 413.8,707.8 418.5,712.6 423.2,717.1 427.9,721.4 432.6,726.2 437.2,730.4 441.9,734.2 446.6,738.3 451.3,740.9 456.0,744.6 460.7,746.9 465.3,750.4 470.0,753.6 474.7,756.5 479.4,759.4 484.1,762.3 488.8,764.9 493.4,767.8 498.1,770.5 502.8,772.2 507.5,773.9 512.2,776.1 516.9,778.4 521.6,780.0 526.2,782.2 530.9,783.8 535.6,785.9 540.3,787.4 545.0,788.4 549.7,790.5 554.3,791.8 559.0,794.1 563.7,795.5 568.4,796.9 573.1,798.1 577.8,799.8 582.5,800.6 587.1,802.4 591.8,803.0 596.5,804.3 601.2,806.0 605.9,806.5 610.6,807.7 615.2,808.1 619.9,809.5 624.6,810.0 629.3,810.8 634.0,812.6 638.7,813.0 643.3,813.0 648.0,813.8 652.7,814.1 657.4,815.0 662.1,816.1 666.8,816.2 671.5,817.1 676.1,817.4 680.8,817.9 685.5,817.9 690.2,818.6 694.9,818.6 699.6,818.9 704.2,817.4 708.9,818.3 713.6,818.1 718.3,818.1 723.0,817.7 727.7,817.3 732.3,816.6 737.0,816.4 741.7,815.9 746.4,815.8 751.1,815.1 755.8,814.1 760.5,813.8 765.1,813.0 769.8,813.0 774.5,811.2 779.2,810.3 783.9,809.0 788.6,809.3 793.2,807.2 797.9,806.1 802.6,804.8 807.3,803.8 812.0,802.1 816.7,800.5 821.4,799.2 826.0,797.6 830.7,795.9 835.4,794.2 840.1,792.3 844.8,790.8 849.5,789.5 854.1,786.7 858.8,786.1 863.5,783.9 868.2,782.6 872.9,780.5 877.6,779.0 882.2,776.9 886.9,775.4 891.6,773.7 896.3,771.3 901.0,769.1 905.7,767.5 910.4,765.5 915.0,763.7 919.7,761.3 924.4,758.9 929.1,757.2 933.8,754.7 938.5,753.1 943.1,751.0 947.8,749.5 952.5,747.7 957.2,745.9 961.9,744.4 966.6,743.0 971.2,742.2 975.9,740.9 980.6,739.5 985.3,739.0 990.0,737.0 994.7,736.2 999.4,735.3 1004.0,734.7 1008.7,733.4 1013.4,733.1 1018.1,731.6 1022.8,731.5 1027.5,731.6 1032.1,730.5 1036.8,730.8 1041.5,730.9 1046.2,730.9 1050.9,731.0 1055.6,731.1 1060.2,731.2 1064.9,731.5 1069.6,732.4 1074.3,733.1 1079.0,733.4 1083.7,733.5 1088.4,733.8 1093.0,733.9 1097.7,735.3 1102.4,735.2 1107.1,735.6 1111.8,735.9 1116.5,736.0 1121.1,736.3 1125.8,736.5 1130.5,736.8 1135.2,736.7 1139.9,736.7 1144.6,736.8 1149.2,737.9 1153.9,738.5 1158.6,738.8 1163.3,739.5 1168.0,739.5 1172.7,740.8 1177.4,741.2 1182.0,742.6 1186.7,743.5 1191.4,744.9 1196.1,746.7 1200.8,749.9 1205.5,751.9 1210.1,755.0 1214.8,757.1 1219.5,759.6 1224.2,762.4 1228.9,765.1 1233.6,768.1 1238.3,771.9 1242.9,774.5 1247.6,778.5 1252.3,781.4 1257.0,785.9 1261.7,789.9 1266.4,793.9 1271.0,797.7 1275.7,801.3 1280.4,805.0 1285.1,807.5 1289.8,810.6 1294.5,813.4 1299.1,816.9 1303.8,820.0 1308.5,823.7 1313.2,825.2 1317.9,829.4 1322.6,831.9 1327.3,833.8 1331.9,835.7 1336.6,838.3 1341.3,840.6 1346.0,842.6 1350.7,844.6 1355.4,846.5 1360.0,848.2 1364.7,849.6 1369.4,851.2 1374.1,853.0 1378.8,853.8 1383.5,854.8 1388.1,855.8 1392.8,857.6 1397.5,858.9 1402.2,859.5 1406.9,860.1 1411.6,861.7 1416.3,861.7 1420.9,862.5"/>
<polyline stroke="#8C8C00" points="329.5,535.0 334.2,546.5 338.9,557.4 343.6,568.7 348.2,580.0 352.9,592.7 357.6,603.2 362.3,614.6 367.0,626.2 371.7,637.1 376.3,646.9 381.0,656.6 385.7,665.6 390.4,674.0 395.1,681.5 399.8,688.5 404.4,693.4 409.1,698.6 413.8,704.1 418.5,709.0 423.2,714.3 427.9,719.7 432.6,725.0 437.2,729.1 441.9,733.8 446.6,736.7 451.3,741.0 456.0,744.1 460.7,748.0 465.3,751.1 470.0,754.7 474.7,757.8 479.4,761.4 484.1,764.7 488.8,767.1 493.4,769.9 498.1,772.9 502.8,775.0 507.5,777.5 512.2,779.0 516.9,781.1 521.6,782.9 526.2,783.9 530.9,786.6 535.6,788.3 540.3,789.9 545.0,791.7 549.7,793.4 554.3,794.4 559.0,795.8 563.7,798.5 568.4,799.0 573.1,800.4 577.8,801.7 582.5,802.2 587.1,803.9 591.8,804.4 596.5,805.9 601.2,806.7 605.9,807.1 610.6,808.3 615.2,808.8 619.9,809.7 624.6,810.2 629.3,810.2 634.0,810.8 638.7,811.9 643.3,812.3 648.0,811.5 652.7,813.0 657.4,813.5 662.1,813.5 666.8,814.3 671.5,814.5 676.1,814.4 680.8,814.6 685.5,815.1 690.2,814.6 694.9,815.0 699.6,814.8 704.2,814.4 708.9,814.3 713.6,813.7 718.3,813.5 723.0,813.4 727.7,812.7 732.3,812.4 737.0,811.9 741.7,811.2 746.4,810.2 751.1,809.8 755.8,808.8 760.5,807.9 765.1,807.6 769.8,806.9 774.5,805.9 779.2,804.4 783.9,803.1 788.6,801.6 793.2,801.3 797.9,799.3 802.6,797.9 807.3,796.0 812.0,795.2 816.7,793.7 821.4,792.4 826.0,790.3 830.7,788.5 835.4,786.6 840.1,784.6 844.8,782.9 849.5,780.5 854.1,778.5 858.8,776.5 863.5,774.9 868.2,772.7 872.9,770.8 877.6,769.8 882.2,767.4 886.9,765.7 891.6,763.6 896.3,761.2 901.0,759.2 905.7,756.5 910.4,754.1 915.0,752.2 919.7,750.1 924.4,747.7 929.1,745.4 933.8,743.0 938.5,741.3 943.1,738.7 947.8,736.9 952.5,734.6 957.2,732.7 961.9,731.0 966.6,730.1 971.2,729.1 975.9,727.9 980.6,726.2 985.3,725.3 990.0,724.2 994.7,722.6 999.4,721.8 1004.0,720.2 1008.7,719.0 1013.4,718.9 1018.1,718.0 1022.8,717.9 1027.5,716.7 1032.1,716.6 1036.8,716.7 1041.5,717.0 1046.2,716.0 1050.9,717.2 1055.6,717.3 1060.2,717.1 1064.9,717.4 1069.6,717.8 1074.3,718.4 1079.0,719.4 1083.7,719.4 1088.4,720.0 1093.0,721.0 1097.7,720.4 1102.4,721.5 1107.1,721.4 1111.8,722.5 1116.5,722.6 1121.1,722.7 1125.8,722.9 1130.5,722.5 1135.2,723.6 1139.9,723.3 1144.6,724.1 1149.2,724.0 1153.9,724.6 1158.6,725.4 1163.3,725.1 1168.0,726.5 1172.7,726.8 1177.4,728.5 1182.0,729.1 1186.7,730.4 1191.4,732.1 1196.1,734.7 1200.8,737.5 1205.5,740.8 1210.1,742.4 1214.8,745.2 1219.5,747.8 1224.2,750.6 1228.9,753.4 1233.6,757.3 1238.3,760.5 1242.9,764.2 1247.6,768.0 1252.3,772.2 1257.0,776.9 1261.7,781.3 1266.4,785.3 1271.0,789.0 1275.7,793.4 1280.4,796.8 1285.1,801.1 1289.8,803.7 1294.5,807.0 1299.1,810.5 1303.8,814.8 1308.5,818.4 1313.2,821.8 1317.9,824.3 1322.6,826.2 1327.3,829.5 1331.9,832.2 1336.6,833.8 1341.3,836.2 1346.0,838.3 1350.7,840.8 1355.4,843.3 1360.0,845.1 1364.7,846.7 1369.4,848.6 1374.1,849.7 1378.8,851.7 1383.5,852.2 1388.1,853.9 1392.8,855.2 1397.5,856.1 1402.2,857.7 1406.9,858.6 1411.6,859.4 1416.3,860.3 1420.9,861.0"/>
<polyline stroke="#FF6000" points="329.5,526.5 334.2,537.6 338.9,548.9 343.6,559.0 348.2,571.2 352.9,582.7 357.6,594.8 362.3,606.4 367.0,616.4 371.7,626.7 376.3,636.9 381.0,647.0 385.7,656.0 390.4,664.1 395.1,671.2 399.8,677.8 404.4,683.3 409.1,688.6 413.8,693.8 418.5,698.1 423.2,704.1 427.9,708.8 432.6,713.6 437.2,718.9 441.9,722.0 446.6,726.2 451.3,729.5 456.0,733.1 460.7,736.8 465.3,739.6 470.0,742.9 474.7,745.7 479.4,748.9 484.1,752.5 488.8,754.4 493.4,757.1 498.1,759.7 502.8,762.1 507.5,764.6 512.2,766.2 516.9,768.5 521.6,769.3 526.2,772.2 530.9,774.3 535.6,775.9 540.3,777.1 545.0,779.5 549.7,781.8 554.3,782.2 559.0,784.2 563.7,786.1 568.4,787.3 573.1,789.4 577.8,791.0 582.5,791.7 587.1,793.5 591.8,794.4 596.5,795.8 601.2,796.7 605.9,798.0 610.6,799.7 615.2,799.7 619.9,801.0 624.6,801.4 629.3,802.4 634.0,802.7 638.7,804.0 643.3,805.2 648.0,805.3 652.7,805.6 657.4,806.5 662.1,807.2 666.8,807.1 671.5,808.1 676.1,808.2 680.8,808.8 685.5,809.6 690.2,809.5 694.9,809.2 699.6,808.8 704.2,809.0 708.9,808.9 713.6,808.5 718.3,808.0 723.0,807.8 727.7,807.2 732.3,805.9 737.0,805.9 741.7,805.6 746.4,804.7 751.1,803.5 755.8,803.0 760.5,802.4 765.1,801.9 769.8,801.0 774.5,799.4 779.2,798.1 783.9,797.4 788.6,796.0 793.2,794.2 797.9,793.4 802.6,791.8 807.3,789.6 812.0,787.8 816.7,786.1 821.4,783.9 826.0,781.7 830.7,779.9 835.4,778.1 840.1,775.2 844.8,773.2 849.5,771.4 854.1,769.9 858.8,767.5 863.5,766.3 868.2,763.7 872.9,762.4 877.6,759.6 882.2,756.9 886.9,755.1 891.6,752.4 896.3,750.7 901.0,748.4 905.7,746.1 910.4,743.4 915.0,741.0 919.7,737.9 924.4,735.2 929.1,733.1 933.8,731.2 938.5,728.3 943.1,725.7 947.8,723.7 952.5,721.7 957.2,719.6 961.9,717.7 966.6,717.3 971.2,714.4 975.9,713.2 980.6,712.0 985.3,711.0 990.0,709.4 994.7,708.0 999.4,707.6 1004.0,705.7 1008.7,705.0 1013.4,703.7 1018.1,703.1 1022.8,702.6 1027.5,701.9 1032.1,701.3 1036.8,701.4 1041.5,701.3 1046.2,701.9 1050.9,702.3 1055.6,702.3 1060.2,702.8 1064.9,703.0 1069.6,703.1 1074.3,704.4 1079.0,704.9 1083.7,704.9 1088.4,705.8 1093.0,706.1 1097.7,707.0 1102.4,707.4 1107.1,707.5 1111.8,707.2 1116.5,707.9 1121.1,708.8 1125.8,708.3 1130.5,708.4 1135.2,708.7 1139.9,709.7 1144.6,709.7 1149.2,709.4 1153.9,711.0 1158.6,711.2 1163.3,712.2 1168.0,713.1 1172.7,713.6 1177.4,714.0 1182.0,715.1 1186.7,717.2 1191.4,719.0 1196.1,721.7 1200.8,725.1 1205.5,726.9 1210.1,729.3 1214.8,732.1 1219.5,735.9 1224.2,738.7 1228.9,742.3 1233.6,746.4 1238.3,750.0 1242.9,754.0 1247.6,757.9 1252.3,761.9 1257.0,767.6 1261.7,772.4 1266.4,776.3 1271.0,781.2 1275.7,786.3 1280.4,790.0 1285.1,793.6 1289.8,797.0 1294.5,800.2 1299.1,803.9 1303.8,808.3 1308.5,812.0 1313.2,815.8 1317.9,818.6 1322.6,821.6 1327.3,824.9 1331.9,827.6 1336.6,828.9 1341.3,831.7 1346.0,834.8 1350.7,837.6 1355.4,839.5 1360.0,841.3 1364.7,844.0 1369.4,845.8 1374.1,847.4 1378.8,848.4 1383.5,849.5 1388.1,851.8 1392.8,853.0 1397.5,854.3 1402.2,855.7 1406.9,857.0 1411.6,857.4 1416.3,858.6 1420.9,859.3"/>
<polyline stroke="#409AD2" points="329.5,513.7 334.2,524.9 338.9,535.3 343.6,546.4 348.2,557.4 352.9,568.7 357.6,580.3 362.3,591.8 367.0,601.4 371.7,612.6 376.3,623.8 381.0,634.5 385.7,643.4 390.4,651.6 395.1,658.7 399.8,665.1 404.4,671.3 409.1,676.4 413.8,682.3 418.5,686.9 423.2,692.0 427.9,697.9 432.6,702.9 437.2,707.6 441.9,712.1 446.6,715.7 451.3,720.3 456.0,723.2 460.7,727.6 465.3,730.8 470.0,734.2 474.7,737.3 479.4,740.5 484.1,743.2 488.8,746.2 493.4,748.2 498.1,751.5 502.8,754.0 507.5,756.0 512.2,757.9 516.9,760.2 521.6,762.4 526.2,764.2 530.9,765.8 535.6,767.4 540.3,769.4 545.0,771.3 549.7,772.8 554.3,774.9 559.0,776.3 563.7,777.6 568.4,779.5 573.1,781.1 577.8,783.2 582.5,784.4 587.1,786.2 591.8,786.9 596.5,788.7 601.2,790.2 605.9,791.0 610.6,791.7 615.2,793.4 619.9,794.1 624.6,794.1 629.3,795.2 634.0,796.0 638.7,797.2 643.3,796.7 648.0,797.5 652.7,798.2 657.4,799.3 662.1,799.3 666.8,799.6 671.5,800.5 676.1,800.9 680.8,801.3 685.5,801.1 690.2,801.3 694.9,801.1 699.6,801.2 704.2,800.9 708.9,799.7 713.6,799.1 718.3,798.9 723.0,798.2 727.7,798.2 732.3,797.4 737.0,796.5 741.7,795.9 746.4,794.5 751.1,794.6 755.8,793.3 760.5,792.2 765.1,791.3 769.8,789.6 774.5,789.2 779.2,786.8 783.9,785.4 788.6,784.0 793.2,782.0 797.9,780.0 802.6,779.0 807.3,777.0 812.0,775.2 816.7,773.0 821.4,771.1 826.0,768.9 830.7,766.0 835.4,763.9 840.1,761.0 844.8,758.6 849.5,756.6 854.1,753.9 858.8,751.7 863.5,749.4 868.2,746.7 872.9,744.7 877.6,742.2 882.2,740.4 886.9,737.1 891.6,735.2 896.3,732.3 901.0,729.0 905.7,726.2 910.4,724.1 915.0,721.4 919.7,717.8 924.4,715.1 929.1,712.0 933.8,709.8 938.5,706.2 943.1,703.4 947.8,701.8 952.5,699.1 957.2,696.9 961.9,694.4 966.6,693.4 971.2,690.9 975.9,689.4 980.6,688.0 985.3,686.0 990.0,685.3 994.7,683.7 999.4,682.1 1004.0,680.4 1008.7,679.7 1013.4,678.9 1018.1,677.4 1022.8,676.8 1027.5,676.2 1032.1,675.6 1036.8,675.3 1041.5,674.6 1046.2,676.0 1050.9,675.8 1055.6,676.2 1060.2,676.5 1064.9,676.4 1069.6,677.2 1074.3,678.0 1079.0,679.1 1083.7,680.0 1088.4,680.2 1093.0,681.0 1097.7,681.6 1102.4,681.7 1107.1,682.8 1111.8,683.0 1116.5,682.8 1121.1,683.4 1125.8,683.4 1130.5,684.2 1135.2,683.9 1139.9,684.8 1144.6,684.5 1149.2,685.3 1153.9,686.0 1158.6,686.3 1163.3,687.5 1168.0,688.7 1172.7,688.9 1177.4,690.3 1182.0,691.3 1186.7,693.2 1191.4,695.1 1196.1,698.7 1200.8,702.2 1205.5,705.4 1210.1,707.7 1214.8,711.8 1219.5,715.3 1224.2,719.0 1228.9,722.5 1233.6,726.5 1238.3,731.2 1242.9,735.0 1247.6,739.9 1252.3,744.7 1257.0,750.3 1261.7,756.3 1266.4,761.3 1271.0,766.7 1275.7,771.5 1280.4,776.2 1285.1,780.5 1289.8,784.2 1294.5,788.5 1299.1,792.7 1303.8,797.5 1308.5,802.0 1313.2,805.7 1317.9,809.6 1322.6,813.0 1327.3,816.5 1331.9,819.5 1336.6,822.0 1341.3,824.7 1346.0,828.3 1350.7,831.0 1355.4,832.8 1360.0,835.9 1364.7,839.3 1369.4,840.6 1374.1,842.3 1378.8,844.3 1383.5,844.7 1388.1,846.7 1392.8,848.5 1397.5,850.4 1402.2,851.6 1406.9,852.8 1411.6,854.1 1416.3,855.6 1420.9,856.3"/>
<polyline stroke="#2EB800" points="329.5,504.5 334.2,514.8 338.9,525.8 343.6,536.1 348.2,547.1 352.9,558.4 357.6,569.8 362.3,581.4 367.0,591.4 371.7,602.6 376.3,614.5 381.0,624.9 385.7,635.2 390.4,643.8 395.1,650.9 399.8,657.8 404.4,663.4 409.1,669.7 413.8,675.6 418.5,680.8 423.2,687.4 427.9,691.8 432.6,697.9 437.2,703.1 441.9,708.1 446.6,713.0 451.3,717.0 456.0,721.2 460.7,725.0 465.3,728.5 470.0,732.6 474.7,735.2 479.4,739.5 484.1,742.0 488.8,745.5 493.4,748.7 498.1,751.0 502.8,753.5 507.5,755.9 512.2,758.0 516.9,760.2 521.6,761.8 526.2,764.0 530.9,765.7 535.6,767.2 540.3,769.8 545.0,771.3 549.7,773.0 554.3,774.7 559.0,776.5 563.7,777.8 568.4,779.3 573.1,781.0 577.8,782.9 582.5,783.5 587.1,784.7 591.8,786.1 596.5,787.6 601.2,788.6 605.9,788.5 610.6,789.4 615.2,790.5 619.9,791.7 624.6,791.6 629.3,792.5 634.0,792.6 638.7,793.8 643.3,793.8 648.0,794.4 652.7,794.4 657.4,795.2 662.1,795.0 666.8,795.7 671.5,796.1 676.1,795.9 680.8,796.1 685.5,796.8 690.2,795.9 694.9,795.5 699.6,795.0 704.2,793.8 708.9,794.1 713.6,793.3 718.3,793.3 723.0,792.5 727.7,791.4 732.3,790.4 737.0,789.5 741.7,788.3 746.4,787.2 751.1,786.1 755.8,785.3 760.5,783.9 765.1,783.1 769.8,781.4 774.5,779.8 779.2,778.6 783.9,777.8 788.6,775.2 793.2,772.3 797.9,771.3 802.6,769.5 807.3,767.2 812.0,764.7 816.7,762.6 821.4,760.3 826.0,758.1 830.7,755.1 835.4,752.6 840.1,749.4 844.8,746.3 849.5,743.7 854.1,741.7 858.8,739.2 863.5,736.8 868.2,733.5 872.9,730.9 877.6,728.1 882.2,725.5 886.9,723.3 891.6,720.8 896.3,716.9 901.0,714.6 905.7,710.7 910.4,708.9 915.0,705.2 919.7,701.8 924.4,698.1 929.1,694.8 933.8,692.1 938.5,688.7 943.1,686.4 947.8,683.2 952.5,680.8 957.2,678.1 961.9,675.9 966.6,673.5 971.2,670.5 975.9,670.2 980.6,668.1 985.3,666.1 990.0,664.6 994.7,662.6 999.4,661.9 1004.0,659.9 1008.7,659.2 1013.4,657.6 1018.1,656.8 1022.8,655.7 1027.5,655.2 1032.1,655.1 1036.8,654.7 1041.5,654.2 1046.2,654.7 1050.9,654.7 1055.6,655.7 1060.2,655.3 1064.9,655.7 1069.6,657.4 1074.3,657.4 1079.0,657.7 1083.7,659.4 1088.4,659.5 1093.0,660.5 1097.7,660.8 1102.4,661.8 1107.1,662.4 1111.8,662.7 1116.5,663.1 1121.1,663.4 1125.8,663.8 1130.5,663.5 1135.2,664.4 1139.9,665.0 1144.6,665.4 1149.2,665.5 1153.9,667.1 1158.6,667.0 1163.3,667.8 1168.0,668.5 1172.7,670.1 1177.4,671.4 1182.0,672.5 1186.7,674.2 1191.4,676.2 1196.1,679.9 1200.8,683.8 1205.5,687.5 1210.1,690.5 1214.8,693.9 1219.5,697.4 1224.2,701.9 1228.9,705.9 1233.6,710.5 1238.3,715.8 1242.9,720.7 1247.6,725.7 1252.3,731.2 1257.0,737.4 1261.7,743.0 1266.4,748.8 1271.0,754.4 1275.7,760.3 1280.4,765.7 1285.1,770.0 1289.8,774.8 1294.5,779.0 1299.1,784.2 1303.8,788.6 1308.5,794.8 1313.2,798.1 1317.9,802.3 1322.6,806.6 1327.3,810.0 1331.9,813.1 1336.6,815.7 1341.3,818.5 1346.0,822.2 1350.7,824.9 1355.4,828.7 1360.0,831.2 1364.7,833.9 1369.4,836.9 1374.1,838.3 1378.8,840.4 1383.5,841.6 1388.1,843.9 1392.8,846.1 1397.5,847.7 1402.2,848.8 1406.9,850.1 1411.6,851.4 1416.3,853.0 1420.9,853.6"/>
<polyline stroke="#737373" points="329.5,498.8 334.2,508.9 338.9,518.9 343.6,529.8 348.2,541.2 352.9,551.6 357.6,563.0 362.3,574.1 367.0,584.3 371.7,596.2 376.3,607.0 381.0,618.1 385.7,627.4 390.4,637.6 395.1,644.5 399.8,651.2 404.4,657.0 409.1,663.2 413.8,668.8 418.5,673.6 423.2,680.0 427.9,685.5 432.6,691.3 437.2,696.4 441.9,702.0 446.6,706.3 451.3,710.3 456.0,714.3 460.7,717.8 465.3,721.7 470.0,725.3 474.7,729.0 479.4,731.9 484.1,735.7 488.8,738.5 493.4,741.9 498.1,744.6 502.8,746.4 507.5,748.9 512.2,751.6 516.9,753.0 521.6,755.0 526.2,757.2 530.9,758.7 535.6,760.8 540.3,762.5 545.0,764.0 549.7,766.3 554.3,767.5 559.0,769.6 563.7,771.3 568.4,772.6 573.1,774.6 577.8,776.4 582.5,777.7 587.1,779.0 591.8,780.9 596.5,781.4 601.2,782.8 605.9,784.3 610.6,785.1 615.2,785.3 619.9,786.8 624.6,786.4 629.3,788.1 634.0,788.3 638.7,789.8 643.3,789.4 648.0,790.0 652.7,790.1 657.4,790.6 662.1,791.1 666.8,790.6 671.5,791.4 676.1,792.2 680.8,792.0 685.5,793.0 690.2,792.1 694.9,791.1 699.6,791.2 704.2,790.4 708.9,790.2 713.6,789.0 718.3,788.6 723.0,787.9 727.7,786.7 732.3,785.6 737.0,784.9 741.7,784.7 746.4,782.9 751.1,781.8 755.8,781.1 760.5,780.0 765.1,778.3 769.8,776.8 774.5,775.2 779.2,773.7 783.9,771.7 788.6,769.8 793.2,768.1 797.9,765.9 802.6,764.1 807.3,762.3 812.0,759.5 816.7,756.7 821.4,753.5 826.0,752.4 830.7,749.0 835.4,746.2 840.1,742.9 844.8,740.4 849.5,737.3 854.1,734.2 858.8,732.1 863.5,729.1 868.2,725.8 872.9,723.3 877.6,721.3 882.2,717.2 886.9,715.2 891.6,712.0 896.3,709.2 901.0,706.2 905.7,703.1 910.4,699.3 915.0,696.3 919.7,692.9 924.4,689.2 929.1,685.6 933.8,683.1 938.5,679.0 943.1,676.3 947.8,672.8 952.5,669.8 957.2,667.5 961.9,665.1 966.6,663.2 971.2,661.2 975.9,659.7 980.6,657.3 985.3,655.6 990.0,654.5 994.7,651.9 999.4,649.9 1004.0,648.8 1008.7,647.3 1013.4,646.6 1018.1,645.7 1022.8,644.3 1027.5,643.6 1032.1,643.3 1036.8,642.5 1041.5,642.9 1046.2,643.3 1050.9,643.3 1055.6,643.8 1060.2,643.9 1064.9,644.1 1069.6,645.5 1074.3,646.5 1079.0,646.6 1083.7,647.1 1088.4,648.8 1093.0,649.6 1097.7,650.3 1102.4,650.5 1107.1,651.0 1111.8,651.6 1116.5,651.6 1121.1,652.5 1125.8,652.7 1130.5,653.3 1135.2,652.7 1139.9,653.3 1144.6,653.7 1149.2,655.0 1153.9,655.1 1158.6,656.2 1163.3,657.0 1168.0,658.0 1172.7,659.4 1177.4,660.6 1182.0,662.5 1186.7,664.0 1191.4,666.3 1196.1,670.1 1200.8,673.6 1205.5,676.8 1210.1,680.9 1214.8,684.7 1219.5,688.7 1224.2,692.8 1228.9,696.9 1233.6,702.2 1238.3,707.1 1242.9,712.5 1247.6,717.4 1252.3,723.2 1257.0,729.9 1261.7,736.1 1266.4,742.5 1271.0,748.1 1275.7,753.8 1280.4,759.5 1285.1,764.3 1289.8,769.0 1294.5,774.0 1299.1,779.2 1303.8,784.4 1308.5,789.4 1313.2,794.1 1317.9,798.3 1322.6,802.5 1327.3,806.0 1331.9,809.5 1336.6,812.9 1341.3,815.9 1346.0,819.8 1350.7,822.1 1355.4,826.0 1360.0,828.9 1364.7,831.1 1369.4,834.5 1374.1,836.4 1378.8,838.1 1383.5,840.0 1388.1,841.7 1392.8,843.6 1397.5,845.3 1402.2,847.2 1406.9,848.4 1411.6,850.2 1416.3,851.1 1420.9,852.1"/>
<polyline stroke="#FF4040" points="329.5,488.1 334.2,497.5 338.9,507.5 343.6,518.6 348.2,529.6 352.9,539.5 357.6,550.8 362.3,561.3 367.0,572.4 371.7,583.8 376.3,595.6 381.0,606.7 385.7,617.5 390.4,626.3 395.1,633.6 399.8,640.8 404.4,646.8 409.1,652.8 413.8,658.7 418.5,664.6 423.2,670.0 427.9,676.5 432.6,682.0 437.2,688.3 441.9,693.0 446.6,697.8 451.3,702.7 456.0,707.2 460.7,710.8 465.3,714.6 470.0,718.5 474.7,722.1 479.4,725.0 484.1,728.6 488.8,731.8 493.4,734.4 498.1,737.6 502.8,740.3 507.5,742.1 512.2,744.6 516.9,746.2 521.6,748.7 526.2,750.3 530.9,752.0 535.6,754.2 540.3,756.0 545.0,757.9 549.7,759.5 554.3,761.5 559.0,763.2 563.7,765.2 568.4,766.3 573.1,768.9 577.8,770.0 582.5,772.1 587.1,773.0 591.8,774.1 596.5,776.1 601.2,776.3 605.9,778.3 610.6,779.1 615.2,779.5 619.9,780.8 624.6,780.8 629.3,781.6 634.0,783.3 638.7,783.3 643.3,783.5 648.0,783.5 652.7,784.3 657.4,784.5 662.1,784.4 666.8,785.2 671.5,785.0 676.1,785.7 680.8,785.1 685.5,784.8 690.2,785.4 694.9,785.3 699.6,784.4 704.2,782.9 708.9,782.7 713.6,781.4 718.3,781.4 723.0,780.4 727.7,779.2 732.3,777.8 737.0,777.1 741.7,776.2 746.4,774.5 751.1,773.2 755.8,771.7 760.5,770.5 765.1,769.2 769.8,767.4 774.5,766.5 779.2,763.7 783.9,761.5 788.6,759.7 793.2,758.0 797.9,756.0 802.6,752.8 807.3,751.0 812.0,748.3 816.7,745.5 821.4,742.9 826.0,739.6 830.7,736.0 835.4,733.5 840.1,729.5 844.8,726.8 849.5,723.7 854.1,720.5 858.8,717.5 863.5,714.5 868.2,711.6 872.9,708.9 877.6,705.1 882.2,702.5 886.9,699.6 891.6,695.8 896.3,692.6 901.0,689.4 905.7,685.9 910.4,682.0 915.0,677.8 919.7,674.6 924.4,671.1 929.1,667.1 933.8,663.2 938.5,660.0 943.1,656.7 947.8,652.9 952.5,649.8 957.2,647.2 961.9,644.5 966.6,642.3 971.2,640.1 975.9,637.8 980.6,636.1 985.3,633.6 990.0,631.8 994.7,630.1 999.4,628.2 1004.0,626.5 1008.7,625.4 1013.4,624.2 1018.1,623.0 1022.8,621.1 1027.5,621.1 1032.1,620.0 1036.8,619.6 1041.5,620.3 1046.2,620.5 1050.9,620.8 1055.6,621.5 1060.2,620.9 1064.9,621.9 1069.6,623.0 1074.3,623.8 1079.0,624.5 1083.7,625.6 1088.4,626.6 1093.0,626.9 1097.7,628.1 1102.4,628.6 1107.1,629.0 1111.8,629.8 1116.5,629.9 1121.1,630.5 1125.8,629.8 1130.5,631.1 1135.2,631.2 1139.9,632.1 1144.6,632.8 1149.2,633.2 1153.9,634.0 1158.6,635.0 1163.3,635.9 1168.0,636.7 1172.7,637.5 1177.4,638.8 1182.0,641.0 1186.7,642.4 1191.4,645.2 1196.1,649.7 1200.8,653.9 1205.5,657.8 1210.1,660.9 1214.8,665.6 1219.5,670.1 1224.2,674.3 1228.9,679.9 1233.6,685.1 1238.3,690.1 1242.9,695.8 1247.6,702.5 1252.3,708.6 1257.0,714.9 1261.7,722.6 1266.4,728.4 1271.0,735.6 1275.7,741.9 1280.4,747.8 1285.1,753.8 1289.8,758.4 1294.5,763.8 1299.1,769.0 1303.8,774.5 1308.5,780.7 1313.2,785.8 1317.9,791.3 1322.6,795.4 1327.3,799.4 1331.9,803.0 1336.6,806.1 1341.3,809.2 1346.0,813.3 1350.7,816.9 1355.4,821.0 1360.0,823.6 1364.7,827.0 1369.4,830.3 1374.1,831.9 1378.8,834.2 1383.5,835.6 1388.1,837.8 1392.8,840.1 1397.5,841.6 1402.2,844.0 1406.9,845.7 1411.6,847.1 1416.3,848.5 1420.9,850.1"/>
<polyline stroke="#0070E0" points="329.5,474.3 334.2,483.9 338.9,494.1 343.6,504.5 348.2,513.9 352.9,524.6 357.6,535.5 362.3,546.2 367.0,556.8 371.7,569.0 376.3,580.5 381.0,592.7 385.7,603.6 390.4,612.5 395.1,620.4 399.8,627.0 404.4,632.9 409.1,639.4 413.8,645.0 418.5,650.5 423.2,656.7 427.9,663.4 432.6,669.7 437.2,674.6 441.9,681.2 446.6,686.6 451.3,691.3 456.0,694.6 460.7,699.6 465.3,703.1 470.0,706.9 474.7,710.0 479.4,714.3 484.1,717.1 488.8,720.2 493.4,722.9 498.1,726.3 502.8,728.7 507.5,731.2 512.2,732.8 516.9,734.9 521.6,737.3 526.2,739.0 530.9,741.6 535.6,743.1 540.3,745.4 545.0,747.1 549.7,748.5 554.3,750.0 559.0,752.5 563.7,754.6 568.4,756.6 573.1,758.2 577.8,760.3 582.5,761.5 587.1,762.8 591.8,764.6 596.5,766.4 601.2,767.3 605.9,768.9 610.6,770.3 615.2,770.3 619.9,770.9 624.6,771.9 629.3,773.2 634.0,774.8 638.7,774.5 643.3,774.5 648.0,775.2 652.7,775.0 657.4,776.1 662.1,776.0 666.8,776.4 671.5,776.6 676.1,777.3 680.8,777.0 685.5,776.8 690.2,776.6 694.9,776.4 699.6,775.4 704.2,774.8 708.9,773.5 713.6,772.5 718.3,771.9 723.0,770.9 727.7,770.0 732.3,768.7 737.0,768.1 741.7,766.1 746.4,764.4 751.1,763.4 755.8,761.5 760.5,760.6 765.1,758.4 769.8,756.8 774.5,754.7 779.2,752.7 783.9,749.8 788.6,749.4 793.2,746.5 797.9,743.8 802.6,740.9 807.3,738.5 812.0,735.7 816.7,733.0 821.4,729.7 826.0,726.2 830.7,722.0 835.4,719.2 840.1,714.5 844.8,711.5 849.5,708.5 854.1,704.8 858.8,701.4 863.5,698.9 868.2,695.7 872.9,691.3 877.6,688.7 882.2,684.6 886.9,681.1 891.6,678.3 896.3,673.9 901.0,670.2 905.7,666.2 910.4,662.5 915.0,658.1 919.7,653.9 924.4,649.8 929.1,645.1 933.8,641.4 938.5,637.3 943.1,633.9 947.8,630.0 952.5,627.2 957.2,624.0 961.9,620.6 966.6,618.3 971.2,615.8 975.9,613.3 980.6,611.6 985.3,608.9 990.0,606.6 994.7,604.9 999.4,603.2 1004.0,600.5 1008.7,599.4 1013.4,598.5 1018.1,596.9 1022.8,596.0 1027.5,595.0 1032.1,594.4 1036.8,593.9 1041.5,593.6 1046.2,593.7 1050.9,594.4 1055.6,594.4 1060.2,595.0 1064.9,596.2 1069.6,596.9 1074.3,597.6 1079.0,598.6 1083.7,599.5 1088.4,601.2 1093.0,602.2 1097.7,601.7 1102.4,603.2 1107.1,603.4 1111.8,604.3 1116.5,605.3 1121.1,604.7 1125.8,605.4 1130.5,605.4 1135.2,606.2 1139.9,607.2 1144.6,607.5 1149.2,607.9 1153.9,609.4 1158.6,610.1 1163.3,610.9 1168.0,612.9 1172.7,614.0 1177.4,615.2 1182.0,616.7 1186.7,619.2 1191.4,622.4 1196.1,626.1 1200.8,631.2 1205.5,635.2 1210.1,639.4 1214.8,644.0 1219.5,648.5 1224.2,653.6 1228.9,660.0 1233.6,665.1 1238.3,671.1 1242.9,677.2 1247.6,683.5 1252.3,690.3 1257.0,698.3 1261.7,706.1 1266.4,713.8 1271.0,720.8 1275.7,727.9 1280.4,734.7 1285.1,740.3 1289.8,745.5 1294.5,751.0 1299.1,757.8 1303.8,763.5 1308.5,770.1 1313.2,775.8 1317.9,781.3 1322.6,786.5 1327.3,791.2 1331.9,795.0 1336.6,798.6 1341.3,802.3 1346.0,805.9 1350.7,809.8 1355.4,814.1 1360.0,817.6 1364.7,821.7 1369.4,825.1 1374.1,827.0 1378.8,829.0 1383.5,830.8 1388.1,832.7 1392.8,835.8 1397.5,837.7 1402.2,839.7 1406.9,841.9 1411.6,843.3 1416.3,845.0 1420.9,846.0"/>
<polyline stroke="#00AA60" points="329.5,470.7 334.2,480.6 338.9,489.6 343.6,499.4 348.2,509.7 352.9,520.8 357.6,531.2 362.3,542.4 367.0,552.9 371.7,565.2 376.3,577.4 381.0,588.6 385.7,600.2 390.4,609.6 395.1,616.8 399.8,624.1 404.4,631.3 409.1,636.3 413.8,643.0 418.5,648.8 423.2,655.0 427.9,660.6 432.6,667.5 437.2,673.3 441.9,679.3 446.6,684.4 451.3,690.0 456.0,694.0 460.7,698.5 465.3,702.7 470.0,706.1 474.7,709.6 479.4,713.3 484.1,716.9 488.8,719.8 493.4,723.6 498.1,726.1 502.8,728.6 507.5,731.2 512.2,733.4 516.9,735.3 521.6,737.5 526.2,739.4 530.9,741.0 535.6,743.9 540.3,744.8 545.0,746.9 549.7,748.9 554.3,751.1 559.0,752.8 563.7,754.7 568.4,756.2 573.1,758.1 577.8,759.7 582.5,761.6 587.1,763.7 591.8,764.8 596.5,765.9 601.2,766.9 605.9,768.6 610.6,769.1 615.2,769.8 619.9,770.9 624.6,771.4 629.3,771.3 634.0,772.6 638.7,772.4 643.3,773.3 648.0,773.9 652.7,773.7 657.4,774.3 662.1,774.4 666.8,775.4 671.5,774.7 676.1,775.1 680.8,774.6 685.5,774.7 690.2,774.4 694.9,774.0 699.6,772.9 704.2,772.1 708.9,771.3 713.6,769.6 718.3,769.3 723.0,767.9 727.7,766.6 732.3,765.7 737.0,764.2 741.7,762.9 746.4,761.2 751.1,759.8 755.8,758.2 760.5,756.7 765.1,755.1 769.8,753.3 774.5,751.4 779.2,749.0 783.9,746.4 788.6,744.8 793.2,742.2 797.9,739.8 802.6,736.9 807.3,733.7 812.0,731.3 816.7,728.0 821.4,725.5 826.0,721.3 830.7,717.6 835.4,714.3 840.1,711.0 844.8,706.7 849.5,703.3 854.1,699.2 858.8,696.5 863.5,693.0 868.2,689.6 872.9,686.0 877.6,683.1 882.2,678.5 886.9,675.1 891.6,671.7 896.3,668.0 901.0,663.9 905.7,659.9 910.4,656.0 915.0,651.6 919.7,647.0 924.4,642.8 929.1,638.5 933.8,634.5 938.5,630.5 943.1,626.9 947.8,623.0 952.5,619.0 957.2,615.6 961.9,612.9 966.6,611.3 971.2,608.0 975.9,605.0 980.6,602.2 985.3,600.2 990.0,598.4 994.7,596.4 999.4,594.4 1004.0,591.9 1008.7,590.8 1013.4,589.7 1018.1,587.7 1022.8,586.4 1027.5,586.2 1032.1,585.1 1036.8,584.4 1041.5,584.6 1046.2,585.6 1050.9,585.5 1055.6,585.6 1060.2,586.3 1064.9,587.3 1069.6,588.0 1074.3,588.8 1079.0,590.0 1083.7,591.5 1088.4,591.4 1093.0,592.9 1097.7,594.3 1102.4,594.7 1107.1,596.1 1111.8,596.0 1116.5,596.3 1121.1,595.9 1125.8,597.0 1130.5,597.4 1135.2,597.7 1139.9,598.4 1144.6,599.3 1149.2,599.5 1153.9,600.7 1158.6,601.4 1163.3,602.7 1168.0,604.6 1172.7,605.8 1177.4,607.3 1182.0,609.1 1186.7,611.0 1191.4,614.3 1196.1,618.8 1200.8,622.8 1205.5,627.4 1210.1,632.1 1214.8,637.0 1219.5,641.8 1224.2,647.3 1228.9,653.0 1233.6,658.9 1238.3,664.5 1242.9,670.7 1247.6,677.3 1252.3,685.1 1257.0,692.5 1261.7,699.9 1266.4,708.1 1271.0,715.9 1275.7,722.2 1280.4,729.7 1285.1,736.0 1289.8,741.2 1294.5,747.6 1299.1,754.0 1303.8,760.2 1308.5,767.2 1313.2,773.3 1317.9,778.2 1322.6,783.3 1327.3,788.7 1331.9,792.4 1336.6,795.7 1341.3,799.9 1346.0,803.8 1350.7,808.4 1355.4,812.4 1360.0,816.2 1364.7,819.7 1369.4,822.6 1374.1,826.1 1378.8,828.1 1383.5,829.7 1388.1,831.8 1392.8,834.7 1397.5,836.8 1402.2,839.2 1406.9,841.2 1411.6,842.4 1416.3,844.1 1420.9,845.7"/>
<polyline stroke="#C076E0" points="329.5,464.5 334.2,473.5 338.9,483.3 343.6,493.3 348.2,503.6 352.9,514.3 357.6,524.8 362.3,535.7 367.0,546.4 371.7,558.7 376.3,571.6 381.0,584.2 385.7,594.9 390.4,604.9 395.1,612.5 399.8,620.8 404.4,627.3 409.1,633.1 413.8,639.9 418.5,646.0 423.2,652.7 427.9,659.8 432.6,666.1 437.2,673.1 441.9,679.1 446.6,684.0 451.3,690.1 456.0,694.8 460.7,699.8 465.3,703.4 470.0,708.3 474.7,712.3 479.4,716.0 484.1,719.7 488.8,723.3 493.4,726.3 498.1,729.5 502.8,732.1 507.5,734.8 512.2,737.0 516.9,738.9 521.6,740.8 526.2,743.1 530.9,744.8 535.6,746.8 540.3,748.3 545.0,750.2 549.7,752.1 554.3,753.6 559.0,755.9 563.7,757.0 568.4,759.2 573.1,761.1 577.8,762.4 582.5,764.2 587.1,764.6 591.8,766.3 596.5,768.0 601.2,768.9 605.9,769.5 610.6,770.2 615.2,770.4 619.9,770.8 624.6,771.2 629.3,771.8 634.0,772.6 638.7,772.1 643.3,772.1 648.0,773.2 652.7,772.8 657.4,772.7 662.1,772.9 666.8,772.3 671.5,772.4 676.1,772.4 680.8,772.7 685.5,772.6 690.2,771.6 694.9,770.7 699.6,769.8 704.2,769.1 708.9,767.8 713.6,766.4 718.3,765.1 723.0,764.1 727.7,762.7 732.3,761.3 737.0,759.8 741.7,757.8 746.4,756.8 751.1,754.8 755.8,753.5 760.5,750.9 765.1,749.2 769.8,747.2 774.5,745.4 779.2,743.2 783.9,741.2 788.6,738.2 793.2,735.3 797.9,733.9 802.6,729.6 807.3,727.6 812.0,724.1 816.7,721.2 821.4,717.5 826.0,713.5 830.7,710.1 835.4,705.6 840.1,702.4 844.8,698.4 849.5,695.0 854.1,691.4 858.8,687.7 863.5,683.8 868.2,679.8 872.9,676.7 877.6,673.4 882.2,669.4 886.9,665.9 891.6,661.4 896.3,657.7 901.0,654.0 905.7,649.6 910.4,644.8 915.0,640.3 919.7,636.0 924.4,631.0 929.1,626.6 933.8,622.7 938.5,618.2 943.1,613.6 947.8,610.5 952.5,606.1 957.2,603.1 961.9,599.7 966.6,596.9 971.2,594.2 975.9,591.8 980.6,589.3 985.3,586.8 990.0,584.5 994.7,582.9 999.4,580.2 1004.0,578.0 1008.7,576.5 1013.4,575.2 1018.1,574.4 1022.8,572.2 1027.5,571.0 1032.1,570.1 1036.8,570.7 1041.5,570.6 1046.2,571.0 1050.9,571.3 1055.6,572.2 1060.2,572.3 1064.9,572.9 1069.6,573.8 1074.3,574.3 1079.0,576.3 1083.7,577.3 1088.4,577.8 1093.0,579.3 1097.7,579.5 1102.4,580.6 1107.1,581.6 1111.8,582.3 1116.5,582.5 1121.1,583.1 1125.8,583.4 1130.5,584.0 1135.2,584.1 1139.9,585.0 1144.6,585.7 1149.2,586.4 1153.9,587.7 1158.6,588.5 1163.3,589.7 1168.0,591.4 1172.7,593.0 1177.4,593.6 1182.0,595.9 1186.7,598.2 1191.4,601.5 1196.1,605.3 1200.8,611.0 1205.5,616.2 1210.1,620.0 1214.8,625.1 1219.5,629.9 1224.2,635.8 1228.9,641.3 1233.6,647.7 1238.3,654.2 1242.9,660.1 1247.6,666.6 1252.3,675.4 1257.0,683.1 1261.7,691.6 1266.4,699.6 1271.0,708.1 1275.7,715.8 1280.4,722.0 1285.1,728.7 1289.8,734.9 1294.5,740.3 1299.1,747.3 1303.8,754.4 1308.5,761.7 1313.2,767.6 1317.9,773.0 1322.6,779.6 1327.3,784.3 1331.9,788.3 1336.6,791.6 1341.3,795.9 1346.0,800.2 1350.7,804.7 1355.4,808.9 1360.0,812.5 1364.7,815.4 1369.4,819.7 1374.1,822.1 1378.8,825.1 1383.5,826.7 1388.1,829.6 1392.8,832.2 1397.5,834.8 1402.2,837.1 1406.9,839.0 1411.6,840.9 1416.3,842.7 1420.9,843.2"/>
<polyline stroke="#DC9600" points="329.5,459.6 334.2,468.7 338.9,478.5 343.6,489.1 348.2,498.8 352.9,509.6 357.6,520.4 362.3,531.0 367.0,542.1 371.7,554.3 376.3,567.0 381.0,579.5 385.7,590.8 390.4,600.1 395.1,608.1 399.8,615.9 404.4,623.2 409.1,629.5 413.8,635.7 418.5,642.2 423.2,648.8 427.9,655.7 432.6,662.7 437.2,669.5 441.9,676.3 446.6,681.3 451.3,686.8 456.0,692.3 460.7,696.7 465.3,701.2 470.0,705.5 474.7,708.8 479.4,713.3 484.1,716.0 488.8,720.4 493.4,724.0 498.1,726.9 502.8,728.8 507.5,732.1 512.2,734.2 516.9,737.2 521.6,738.3 526.2,740.9 530.9,742.5 535.6,743.9 540.3,746.4 545.0,747.9 549.7,750.0 554.3,751.8 559.0,753.3 563.7,754.8 568.4,757.0 573.1,758.8 577.8,760.6 582.5,762.2 587.1,762.9 591.8,764.2 596.5,765.2 601.2,765.9 605.9,766.9 610.6,768.1 615.2,768.3 619.9,768.8 624.6,769.4 629.3,770.4 634.0,770.2 638.7,770.2 643.3,769.9 648.0,770.3 652.7,770.6 657.4,769.7 662.1,770.1 666.8,770.2 671.5,769.8 676.1,769.7 680.8,769.7 685.5,769.5 690.2,768.8 694.9,767.5 699.6,766.7 704.2,765.4 708.9,765.1 713.6,763.5 718.3,762.3 723.0,761.1 727.7,760.2 732.3,758.2 737.0,756.0 741.7,754.8 746.4,753.4 751.1,751.7 755.8,750.1 760.5,747.7 765.1,746.1 769.8,744.0 774.5,741.4 779.2,739.0 783.9,736.7 788.6,734.9 793.2,731.8 797.9,728.5 802.6,726.4 807.3,722.6 812.0,719.8 816.7,716.1 821.4,713.0 826.0,709.5 830.7,705.5 835.4,700.8 840.1,697.4 844.8,693.8 849.5,689.3 854.1,686.3 858.8,682.1 863.5,678.2 868.2,674.5 872.9,670.7 877.6,667.1 882.2,664.0 886.9,659.2 891.6,655.3 896.3,651.3 901.0,646.9 905.7,642.5 910.4,638.2 915.0,633.0 919.7,628.0 924.4,623.9 929.1,619.5 933.8,615.4 938.5,610.5 943.1,607.0 947.8,601.8 952.5,598.2 957.2,595.1 961.9,591.6 966.6,589.1 971.2,586.4 975.9,583.1 980.6,581.2 985.3,578.4 990.0,576.1 994.7,573.2 999.4,571.5 1004.0,569.1 1008.7,567.6 1013.4,566.7 1018.1,565.2 1022.8,564.1 1027.5,562.2 1032.1,562.4 1036.8,561.6 1041.5,562.3 1046.2,562.0 1050.9,561.9 1055.6,562.9 1060.2,563.3 1064.9,563.9 1069.6,564.7 1074.3,566.4 1079.0,567.1 1083.7,568.4 1088.4,569.7 1093.0,570.6 1097.7,570.8 1102.4,571.8 1107.1,572.6 1111.8,573.7 1116.5,574.0 1121.1,574.8 1125.8,575.3 1130.5,575.3 1135.2,575.9 1139.9,576.6 1144.6,577.4 1149.2,577.7 1153.9,579.0 1158.6,580.5 1163.3,580.5 1168.0,583.1 1172.7,584.0 1177.4,586.0 1182.0,587.4 1186.7,590.0 1191.4,592.9 1196.1,597.9 1200.8,603.3 1205.5,607.5 1210.1,612.6 1214.8,617.4 1219.5,622.8 1224.2,628.8 1228.9,634.6 1233.6,640.5 1238.3,647.0 1242.9,654.0 1247.6,661.1 1252.3,668.9 1257.0,677.9 1261.7,685.7 1266.4,694.3 1271.0,703.3 1275.7,710.4 1280.4,718.1 1285.1,724.2 1289.8,730.2 1294.5,736.9 1299.1,743.7 1303.8,750.6 1308.5,758.4 1313.2,764.9 1317.9,770.4 1322.6,776.0 1327.3,780.2 1331.9,785.0 1336.6,789.2 1341.3,793.6 1346.0,798.7 1350.7,803.0 1355.4,806.9 1360.0,810.9 1364.7,814.9 1369.4,818.1 1374.1,820.7 1378.8,823.5 1383.5,825.8 1388.1,828.5 1392.8,830.4 1397.5,834.0 1402.2,835.4 1406.9,837.3 1411.6,840.1 1416.3,841.4 1420.9,842.4"/>
<polyline stroke="#00CCCC" points="329.5,453.2 334.2,462.2 338.9,471.6 343.6,480.9 348.2,491.3 352.9,502.1 357.6,513.0 362.3,523.8 367.0,534.5 371.7,547.7 376.3,560.0 381.0,572.2 385.7,584.4 390.4,594.0 395.1,602.4 399.8,609.6 404.4,617.3 409.1,623.5 413.8,630.1 418.5,636.6 423.2,644.0 427.9,650.4 432.6,657.8 437.2,664.3 441.9,671.1 446.6,676.2 451.3,682.4 456.0,686.9 460.7,692.6 465.3,697.0 470.0,700.7 474.7,705.5 479.4,709.1 484.1,712.5 488.8,716.6 493.4,720.2 498.1,723.3 502.8,725.6 507.5,728.3 512.2,730.3 516.9,732.9 521.6,735.0 526.2,737.2 530.9,739.0 535.6,741.0 540.3,742.8 545.0,744.9 549.7,746.6 554.3,748.3 559.0,749.6 563.7,751.8 568.4,753.8 573.1,755.0 577.8,756.5 582.5,758.4 587.1,759.7 591.8,761.4 596.5,762.5 601.2,762.9 605.9,763.3 610.6,763.8 615.2,764.7 619.9,765.6 624.6,765.7 629.3,766.7 634.0,766.5 638.7,767.0 643.3,766.5 648.0,766.0 652.7,765.7 657.4,766.3 662.1,766.2 666.8,766.7 671.5,766.3 676.1,765.4 680.8,765.3 685.5,764.9 690.2,764.3 694.9,762.9 699.6,762.5 704.2,761.2 708.9,759.0 713.6,759.0 718.3,757.4 723.0,756.3 727.7,754.2 732.3,753.2 737.0,751.6 741.7,749.9 746.4,747.7 751.1,746.4 755.8,744.7 760.5,742.2 765.1,740.3 769.8,738.0 774.5,735.9 779.2,733.6 783.9,730.7 788.6,728.0 793.2,725.0 797.9,722.4 802.6,720.0 807.3,716.2 812.0,712.9 816.7,709.4 821.4,705.4 826.0,701.8 830.7,697.2 835.4,693.6 840.1,688.9 844.8,685.6 849.5,682.0 854.1,677.6 858.8,672.4 863.5,669.6 868.2,665.6 872.9,661.6 877.6,657.8 882.2,653.5 886.9,649.5 891.6,644.7 896.3,640.7 901.0,636.7 905.7,632.1 910.4,627.4 915.0,623.0 919.7,617.2 924.4,612.9 929.1,607.6 933.8,603.2 938.5,598.4 943.1,593.8 947.8,589.8 952.5,586.1 957.2,582.4 961.9,578.7 966.6,576.0 971.2,573.0 975.9,570.2 980.6,567.6 985.3,564.8 990.0,562.6 994.7,560.1 999.4,558.1 1004.0,556.3 1008.7,553.7 1013.4,552.1 1018.1,550.9 1022.8,549.0 1027.5,547.9 1032.1,547.6 1036.8,546.7 1041.5,547.9 1046.2,547.6 1050.9,547.7 1055.6,548.8 1060.2,548.4 1064.9,549.9 1069.6,550.3 1074.3,552.0 1079.0,553.0 1083.7,554.5 1088.4,554.8 1093.0,556.3 1097.7,557.1 1102.4,558.0 1107.1,559.0 1111.8,559.8 1116.5,560.1 1121.1,560.4 1125.8,560.8 1130.5,561.4 1135.2,562.1 1139.9,562.5 1144.6,563.8 1149.2,564.3 1153.9,566.1 1158.6,566.8 1163.3,567.9 1168.0,569.8 1172.7,571.2 1177.4,572.2 1182.0,574.4 1186.7,576.7 1191.4,580.0 1196.1,585.1 1200.8,590.4 1205.5,595.7 1210.1,600.2 1214.8,606.1 1219.5,611.3 1224.2,617.0 1228.9,623.4 1233.6,630.3 1238.3,637.1 1242.9,643.7 1247.6,651.5 1252.3,660.0 1257.0,668.1 1261.7,677.5 1266.4,686.0 1271.0,695.2 1275.7,703.8 1280.4,710.3 1285.1,716.7 1289.8,724.4 1294.5,730.5 1299.1,737.4 1303.8,745.1 1308.5,752.4 1313.2,759.0 1317.9,765.7 1322.6,770.8 1327.3,776.1 1331.9,780.9 1336.6,786.0 1341.3,789.0 1346.0,794.3 1350.7,798.9 1355.4,802.8 1360.0,807.3 1364.7,811.8 1369.4,814.9 1374.1,818.0 1378.8,820.9 1383.5,823.1 1388.1,826.4 1392.8,829.1 1397.5,831.1 1402.2,833.0 1406.9,835.9 1411.6,837.2 1416.3,839.3 1420.9,840.4"/>
<polyline stroke="#8B4A4A" points="329.5,453.2 334.2,461.2 338.9,471.4 343.6,481.3 348.2,491.1 352.9,502.0 357.6,511.7 362.3,522.6 367.0,533.3 371.7,545.7 376.3,559.0 381.0,571.2 385.7,581.9 390.4,591.6 395.1,598.9 399.8,606.8 404.4,612.9 409.1,619.3 413.8,624.9 418.5,631.5 423.2,638.0 427.9,644.9 432.6,651.0 437.2,657.2 441.9,663.6 446.6,668.9 451.3,674.7 456.0,679.1 460.7,683.3 465.3,687.7 470.0,691.1 474.7,695.1 479.4,699.1 484.1,702.6 488.8,705.6 493.4,709.0 498.1,712.0 502.8,714.8 507.5,716.5 512.2,718.9 516.9,720.9 521.6,722.7 526.2,725.7 530.9,727.0 535.6,729.2 540.3,730.9 545.0,732.9 549.7,734.9 554.3,736.6 559.0,739.6 563.7,741.4 568.4,742.8 573.1,744.8 577.8,747.5 582.5,748.6 587.1,750.3 591.8,752.6 596.5,753.9 601.2,755.0 605.9,756.3 610.6,756.7 615.2,758.1 619.9,758.9 624.6,760.2 629.3,761.2 634.0,761.6 638.7,761.4 643.3,761.7 648.0,762.9 652.7,762.9 657.4,764.0 662.1,763.0 666.8,764.0 671.5,763.5 676.1,763.5 680.8,764.4 685.5,764.0 690.2,762.9 694.9,762.0 699.6,761.7 704.2,760.9 708.9,759.4 713.6,758.0 718.3,757.7 723.0,756.4 727.7,754.4 732.3,753.3 737.0,752.1 741.7,750.2 746.4,748.3 751.1,746.4 755.8,744.8 760.5,743.0 765.1,741.6 769.8,738.9 774.5,736.6 779.2,734.3 783.9,731.8 788.6,729.2 793.2,726.2 797.9,723.7 802.6,721.0 807.3,717.2 812.0,714.4 816.7,710.8 821.4,706.9 826.0,703.2 830.7,699.1 835.4,695.4 840.1,690.5 844.8,687.3 849.5,682.4 854.1,679.4 858.8,675.4 863.5,671.4 868.2,667.1 872.9,663.5 877.6,659.7 882.2,656.0 886.9,651.2 891.6,647.4 896.3,643.1 901.0,639.0 905.7,634.6 910.4,629.5 915.0,624.8 919.7,619.5 924.4,614.9 929.1,610.7 933.8,605.4 938.5,601.2 943.1,596.8 947.8,593.5 952.5,588.8 957.2,584.8 961.9,581.8 966.6,578.4 971.2,575.4 975.9,572.9 980.6,570.6 985.3,567.6 990.0,565.2 994.7,563.0 999.4,561.3 1004.0,559.0 1008.7,556.6 1013.4,555.4 1018.1,554.3 1022.8,552.2 1027.5,550.9 1032.1,550.0 1036.8,549.9 1041.5,550.1 1046.2,550.7 1050.9,551.4 1055.6,551.6 1060.2,551.4 1064.9,553.1 1069.6,553.3 1074.3,555.3 1079.0,556.5 1083.7,557.3 1088.4,558.7 1093.0,559.4 1097.7,560.6 1102.4,561.0 1107.1,561.6 1111.8,563.0 1116.5,562.9 1121.1,563.4 1125.8,563.7 1130.5,565.2 1135.2,564.6 1139.9,565.9 1144.6,566.3 1149.2,567.3 1153.9,568.5 1158.6,569.6 1163.3,570.9 1168.0,572.0 1172.7,573.3 1177.4,575.4 1182.0,577.0 1186.7,579.7 1191.4,582.7 1196.1,588.3 1200.8,593.2 1205.5,598.3 1210.1,603.0 1214.8,607.9 1219.5,613.3 1224.2,619.6 1228.9,625.8 1233.6,632.6 1238.3,639.2 1242.9,646.3 1247.6,653.1 1252.3,661.4 1257.0,670.0 1261.7,679.4 1266.4,687.8 1271.0,695.5 1275.7,704.2 1280.4,712.5 1285.1,718.5 1289.8,725.0 1294.5,731.8 1299.1,739.0 1303.8,746.7 1308.5,753.7 1313.2,760.4 1317.9,766.8 1322.6,772.3 1327.3,777.7 1331.9,781.7 1336.6,785.8 1341.3,790.5 1346.0,795.2 1350.7,799.6 1355.4,804.2 1360.0,807.8 1364.7,813.3 1369.4,816.7 1374.1,819.1 1378.8,821.1 1383.5,823.4 1388.1,826.5 1392.8,829.0 1397.5,831.7 1402.2,833.8 1406.9,835.3 1411.6,838.7 1416.3,839.0 1420.9,841.0"/>
<polyline stroke="#8C8C00" points="329.5,444.7 334.2,453.3 338.9,462.7 343.6,472.0 348.2,481.8 352.9,491.8 357.6,502.7 362.3,512.7 367.0,524.2 371.7,536.4 376.3,548.8 381.0,561.7 385.7,573.0 390.4,582.7 395.1,590.9 399.8,598.7 404.4,604.9 409.1,611.3 413.8,616.9 418.5,624.3 423.2,630.2 427.9,637.5 432.6,644.2 437.2,650.1 441.9,657.0 446.6,662.5 451.3,668.1 456.0,673.3 460.7,677.6 465.3,681.9 470.0,685.9 474.7,689.1 479.4,693.2 484.1,697.4 488.8,699.5 493.4,703.3 498.1,706.3 502.8,708.7 507.5,711.8 512.2,713.6 516.9,715.9 521.6,718.0 526.2,719.9 530.9,721.9 535.6,723.6 540.3,725.7 545.0,727.9 549.7,729.6 554.3,732.8 559.0,734.1 563.7,736.0 568.4,738.2 573.1,740.0 577.8,742.4 582.5,743.7 587.1,745.9 591.8,747.3 596.5,749.0 601.2,750.5 605.9,751.5 610.6,752.5 615.2,753.9 619.9,754.2 624.6,755.4 629.3,756.1 634.0,757.6 638.7,757.2 643.3,758.1 648.0,757.5 652.7,758.3 657.4,758.4 662.1,758.5 666.8,759.0 671.5,758.7 676.1,759.2 680.8,758.8 685.5,758.2 690.2,757.5 694.9,756.6 699.6,756.1 704.2,755.3 708.9,753.7 713.6,752.2 718.3,751.8 723.0,749.8 727.7,748.8 732.3,748.1 737.0,745.6 741.7,743.2 746.4,741.8 751.1,739.7 755.8,738.0 760.5,736.7 765.1,734.8 769.8,732.3 774.5,729.7 779.2,727.3 783.9,724.6 788.6,721.3 793.2,718.1 797.9,716.2 802.6,712.8 807.3,709.2 812.0,705.8 816.7,702.8 821.4,697.1 826.0,693.7 830.7,689.6 835.4,686.1 840.1,681.0 844.8,677.2 849.5,672.4 854.1,668.4 858.8,664.4 863.5,660.2 868.2,656.5 872.9,652.1 877.6,648.8 882.2,643.5 886.9,639.6 891.6,634.3 896.3,630.7 901.0,627.0 905.7,621.0 910.4,616.8 915.0,611.8 919.7,606.2 924.4,600.5 929.1,595.3 933.8,591.3 938.5,586.3 943.1,581.7 947.8,577.5 952.5,573.2 957.2,569.3 961.9,565.8 966.6,562.1 971.2,560.1 975.9,556.4 980.6,553.7 985.3,550.7 990.0,548.7 994.7,546.2 999.4,543.7 1004.0,541.7 1008.7,539.9 1013.4,538.2 1018.1,536.5 1022.8,535.1 1027.5,533.6 1032.1,532.9 1036.8,532.7 1041.5,533.1 1046.2,532.6 1050.9,533.3 1055.6,533.9 1060.2,534.8 1064.9,535.0 1069.6,536.3 1074.3,537.6 1079.0,538.9 1083.7,540.2 1088.4,541.0 1093.0,542.6 1097.7,543.5 1102.4,544.1 1107.1,545.1 1111.8,545.5 1116.5,546.0 1121.1,546.3 1125.8,546.9 1130.5,547.8 1135.2,548.2 1139.9,548.9 1144.6,549.2 1149.2,550.6 1153.9,551.9 1158.6,553.2 1163.3,554.0 1168.0,556.0 1172.7,558.2 1177.4,558.9 1182.0,561.1 1186.7,563.6 1191.4,567.0 1196.1,572.2 1200.8,577.9 1205.5,583.3 1210.1,588.6 1214.8,594.3 1219.5,600.1 1224.2,605.7 1228.9,612.2 1233.6,619.3 1238.3,626.6 1242.9,633.4 1247.6,641.4 1252.3,649.9 1257.0,659.3 1261.7,668.9 1266.4,677.8 1271.0,686.3 1275.7,694.6 1280.4,702.4 1285.1,710.1 1289.8,716.6 1294.5,723.7 1299.1,731.3 1303.8,739.1 1308.5,746.5 1313.2,754.1 1317.9,759.7 1322.6,766.4 1327.3,772.2 1331.9,775.8 1336.6,781.3 1341.3,785.6 1346.0,790.8 1350.7,795.1 1355.4,801.0 1360.0,804.4 1364.7,809.3 1369.4,811.9 1374.1,814.7 1378.8,817.8 1383.5,820.9 1388.1,823.0 1392.8,825.5 1397.5,828.9 1402.2,831.5 1406.9,833.1 1411.6,836.1 1416.3,837.7 1420.9,839.3"/>
</g>
<line x1="992.5" y1="89.30" x2="1066.5" y2="89.30" stroke="#737373" stroke-width="6.7" stroke-linecap="round"/>
<g transform="translate(1075.10,100.40) scale(1.0940,1)"><text x="0.00" y="0.00" font-size="31.00">0 s</text></g>
<line x1="1194.3" y1="89.30" x2="1268.5" y2="89.30" stroke="#FF4040" stroke-width="6.7" stroke-linecap="round"/>
<g transform="translate(1277.30,100.40) scale(1.0940,1)"><path shape-rendering="geometricPrecision" transform="translate(0.00,0.00) scale(0.01514,-0.01514)" d="M763,0L583,0L583,1147Q520,1087 418,1027Q316,967 222,930L222,1104Q370,1173 481,1274Q592,1375 646,1466L763,1466Z"/><text x="17.24" y="0.00" font-size="31.00">0 s</text></g>
<line x1="992.5" y1="127.77" x2="1066.5" y2="127.77" stroke="#0070E0" stroke-width="6.7" stroke-linecap="round"/>
<g transform="translate(1075.10,138.87) scale(1.0940,1)"><text x="0.00" y="0.00" font-size="31.00">20 s</text></g>
<line x1="1194.3" y1="127.77" x2="1268.5" y2="127.77" stroke="#00AA60" stroke-width="6.7" stroke-linecap="round"/>
<g transform="translate(1277.30,138.87) scale(1.0940,1)"><text x="0.00" y="0.00" font-size="31.00">30 s</text></g>
<line x1="992.5" y1="166.24" x2="1066.5" y2="166.24" stroke="#C076E0" stroke-width="6.7" stroke-linecap="round"/>
<g transform="translate(1075.10,177.34) scale(1.0940,1)"><text x="0.00" y="0.00" font-size="31.00">40 s</text></g>
<line x1="1194.3" y1="166.24" x2="1268.5" y2="166.24" stroke="#DC9600" stroke-width="6.7" stroke-linecap="round"/>
<g transform="translate(1277.30,177.34) scale(1.0940,1)"><text x="0.00" y="0.00" font-size="31.00">50 s</text></g>
<line x1="992.5" y1="204.71" x2="1066.5" y2="204.71" stroke="#00CCCC" stroke-width="6.7" stroke-linecap="round"/>
<g transform="translate(1075.10,215.81) scale(1.0940,1)"><text x="0.00" y="0.00" font-size="31.00">60 s</text></g>
<line x1="1194.3" y1="204.71" x2="1268.5" y2="204.71" stroke="#8B4A4A" stroke-width="6.7" stroke-linecap="round"/>
<g transform="translate(1277.30,215.81) scale(1.0940,1)"><text x="0.00" y="0.00" font-size="31.00">90 s</text></g>
<line x1="992.5" y1="243.18" x2="1066.5" y2="243.18" stroke="#8C8C00" stroke-width="6.7" stroke-linecap="round"/>
<g transform="translate(1075.10,254.28) scale(1.0940,1)"><path shape-rendering="geometricPrecision" transform="translate(0.00,0.00) scale(0.01514,-0.01514)" d="M763,0L583,0L583,1147Q520,1087 418,1027Q316,967 222,930L222,1104Q370,1173 481,1274Q592,1375 646,1466L763,1466Z"/><text x="17.24" y="0.00" font-size="31.00">20 s</text></g>
<line x1="1194.3" y1="243.18" x2="1268.5" y2="243.18" stroke="#FF6000" stroke-width="6.7" stroke-linecap="round"/>
<g transform="translate(1277.30,254.28) scale(1.0940,1)"><path shape-rendering="geometricPrecision" transform="translate(0.00,0.00) scale(0.01514,-0.01514)" d="M763,0L583,0L583,1147Q520,1087 418,1027Q316,967 222,930L222,1104Q370,1173 481,1274Q592,1375 646,1466L763,1466Z"/><text x="17.24" y="0.00" font-size="31.00">50 s</text></g>
<line x1="992.5" y1="281.65" x2="1066.5" y2="281.65" stroke="#409AD2" stroke-width="6.7" stroke-linecap="round"/>
<g transform="translate(1075.10,292.75) scale(1.0940,1)"><path shape-rendering="geometricPrecision" transform="translate(0.00,0.00) scale(0.01514,-0.01514)" d="M763,0L583,0L583,1147Q520,1087 418,1027Q316,967 222,930L222,1104Q370,1173 481,1274Q592,1375 646,1466L763,1466Z"/><text x="17.24" y="0.00" font-size="31.00">80 s</text></g>
<line x1="1194.3" y1="281.65" x2="1268.5" y2="281.65" stroke="#2EB800" stroke-width="6.7" stroke-linecap="round"/>
<g transform="translate(1277.30,292.75) scale(1.0940,1)"><text x="0.00" y="0.00" font-size="31.00">4 min</text></g>
<line x1="992.5" y1="320.12" x2="1066.5" y2="320.12" stroke="#737373" stroke-width="6.7" stroke-linecap="round"/>
<g transform="translate(1075.10,331.22) scale(1.0940,1)"><text x="0.00" y="0.00" font-size="31.00">5 min</text></g>
<line x1="1194.3" y1="320.12" x2="1268.5" y2="320.12" stroke="#FF4040" stroke-width="6.7" stroke-linecap="round"/>
<g transform="translate(1277.30,331.22) scale(1.0940,1)"><path shape-rendering="geometricPrecision" transform="translate(0.00,0.00) scale(0.01514,-0.01514)" d="M763,0L583,0L583,1147Q520,1087 418,1027Q316,967 222,930L222,1104Q370,1173 481,1274Q592,1375 646,1466L763,1466Z"/><text x="17.24" y="0.00" font-size="31.00">0 min</text></g>
<line x1="992.5" y1="358.59" x2="1066.5" y2="358.59" stroke="#0070E0" stroke-width="6.7" stroke-linecap="round"/>
<g transform="translate(1075.10,369.69) scale(1.0940,1)"><text x="0.00" y="0.00" font-size="31.00">20 min</text></g>
<line x1="1194.3" y1="358.59" x2="1268.5" y2="358.59" stroke="#00AA60" stroke-width="6.7" stroke-linecap="round"/>
<g transform="translate(1277.30,369.69) scale(1.0940,1)"><text x="0.00" y="0.00" font-size="31.00">30 min</text></g>
<line x1="992.5" y1="397.06" x2="1066.5" y2="397.06" stroke="#C076E0" stroke-width="6.7" stroke-linecap="round"/>
<g transform="translate(1075.10,408.16) scale(1.0940,1)"><text x="0.00" y="0.00" font-size="31.00">45 min</text></g>
<line x1="1194.3" y1="397.06" x2="1268.5" y2="397.06" stroke="#DC9600" stroke-width="6.7" stroke-linecap="round"/>
<g transform="translate(1277.30,408.16) scale(1.0940,1)"><text x="0.00" y="0.00" font-size="31.00">60 min</text></g>
<line x1="992.5" y1="435.53" x2="1066.5" y2="435.53" stroke="#00CCCC" stroke-width="6.7" stroke-linecap="round"/>
<g transform="translate(1075.10,446.63) scale(1.0940,1)"><text x="0.00" y="0.00" font-size="31.00">80 min</text></g>
<line x1="1194.3" y1="435.53" x2="1268.5" y2="435.53" stroke="#8B4A4A" stroke-width="6.7" stroke-linecap="round"/>
<g transform="translate(1277.30,446.63) scale(1.0940,1)"><path shape-rendering="geometricPrecision" transform="translate(0.00,0.00) scale(0.01514,-0.01514)" d="M763,0L583,0L583,1147Q520,1087 418,1027Q316,967 222,930L222,1104Q370,1173 481,1274Q592,1375 646,1466L763,1466Z"/><text x="17.24" y="0.00" font-size="31.00">00 min</text></g>
<line x1="992.5" y1="474.00" x2="1066.5" y2="474.00" stroke="#8C8C00" stroke-width="6.7" stroke-linecap="round"/>
<g transform="translate(1075.10,485.10) scale(1.0940,1)"><path shape-rendering="geometricPrecision" transform="translate(0.00,0.00) scale(0.01514,-0.01514)" d="M763,0L583,0L583,1147Q520,1087 418,1027Q316,967 222,930L222,1104Q370,1173 481,1274Q592,1375 646,1466L763,1466Z"/><text x="17.24" y="0.00" font-size="31.00">20 min</text></g>
<rect x="332.50" y="1107.40" width="1112.50" height="843.80" fill="none" stroke="#000" stroke-width="7.50" stroke-linejoin="miter"/>
<rect x="408.25" y="1933.45" width="7.50" height="17.75"/>
<rect x="567.25" y="1933.45" width="7.50" height="17.75"/>
<rect x="726.25" y="1933.45" width="7.50" height="17.75"/>
<rect x="885.25" y="1933.45" width="7.50" height="17.75"/>
<rect x="1044.25" y="1933.45" width="7.50" height="17.75"/>
<rect x="1203.25" y="1933.45" width="7.50" height="17.75"/>
<rect x="1362.25" y="1933.45" width="7.50" height="17.75"/>
<rect x="487.75" y="1941.45" width="7.50" height="9.75"/>
<rect x="646.75" y="1941.45" width="7.50" height="9.75"/>
<rect x="805.75" y="1941.45" width="7.50" height="9.75"/>
<rect x="964.75" y="1941.45" width="7.50" height="9.75"/>
<rect x="1123.75" y="1941.45" width="7.50" height="9.75"/>
<rect x="1282.75" y="1941.45" width="7.50" height="9.75"/>
<rect x="332.50" y="1897.85" width="17.75" height="7.50"/>
<rect x="332.50" y="1798.58" width="17.75" height="7.50"/>
<rect x="332.50" y="1699.31" width="17.75" height="7.50"/>
<rect x="332.50" y="1600.04" width="17.75" height="7.50"/>
<rect x="332.50" y="1500.77" width="17.75" height="7.50"/>
<rect x="332.50" y="1401.50" width="17.75" height="7.50"/>
<rect x="332.50" y="1302.23" width="17.75" height="7.50"/>
<rect x="332.50" y="1202.96" width="17.75" height="7.50"/>
<rect x="332.50" y="1848.21" width="9.75" height="7.50"/>
<rect x="332.50" y="1748.94" width="9.75" height="7.50"/>
<rect x="332.50" y="1649.67" width="9.75" height="7.50"/>
<rect x="332.50" y="1550.40" width="9.75" height="7.50"/>
<rect x="332.50" y="1451.13" width="9.75" height="7.50"/>
<rect x="332.50" y="1351.86" width="9.75" height="7.50"/>
<rect x="332.50" y="1252.59" width="9.75" height="7.50"/>
<rect x="332.50" y="1153.32" width="9.75" height="7.50"/>
<g transform="translate(313.50,1923.37) scale(1.0370,1)"><text x="-40.99" y="0.00" font-size="73.70">0</text></g>
<g transform="translate(313.50,1824.10) scale(1.0370,1)"><text x="-40.99" y="0.00" font-size="73.70">5</text></g>
<g transform="translate(313.50,1724.83) scale(1.0370,1)"><path shape-rendering="geometricPrecision" transform="translate(-81.98,0.00) scale(0.03599,-0.03599)" d="M763,0L583,0L583,1147Q520,1087 418,1027Q316,967 222,930L222,1104Q370,1173 481,1274Q592,1375 646,1466L763,1466Z"/><text x="-40.99" y="0.00" font-size="73.70">0</text></g>
<g transform="translate(313.50,1625.56) scale(1.0370,1)"><path shape-rendering="geometricPrecision" transform="translate(-81.98,0.00) scale(0.03599,-0.03599)" d="M763,0L583,0L583,1147Q520,1087 418,1027Q316,967 222,930L222,1104Q370,1173 481,1274Q592,1375 646,1466L763,1466Z"/><text x="-40.99" y="0.00" font-size="73.70">5</text></g>
<g transform="translate(313.50,1526.29) scale(1.0370,1)"><text x="-81.98" y="0.00" font-size="73.70">20</text></g>
<g transform="translate(313.50,1427.02) scale(1.0370,1)"><text x="-81.98" y="0.00" font-size="73.70">25</text></g>
<g transform="translate(313.50,1327.75) scale(1.0370,1)"><text x="-81.98" y="0.00" font-size="73.70">30</text></g>
<g transform="translate(313.50,1228.48) scale(1.0370,1)"><text x="-81.98" y="0.00" font-size="73.70">35</text></g>
<g transform="translate(313.50,1129.21) scale(1.0370,1)"><text x="-81.98" y="0.00" font-size="73.70">40</text></g>
<g transform="translate(412.00,2025.60) scale(1.0370,1)"><text x="-20.49" y="0.00" font-size="73.70">0</text></g>
<g transform="translate(571.00,2025.60) scale(1.0370,1)"><text x="-40.99" y="0.00" font-size="73.70">20</text></g>
<g transform="translate(730.00,2025.60) scale(1.0370,1)"><text x="-40.99" y="0.00" font-size="73.70">40</text></g>
<g transform="translate(889.00,2025.60) scale(1.0370,1)"><text x="-40.99" y="0.00" font-size="73.70">60</text></g>
<g transform="translate(1048.00,2025.60) scale(1.0370,1)"><text x="-40.99" y="0.00" font-size="73.70">80</text></g>
<g transform="translate(1207.00,2025.60) scale(1.0370,1)"><path shape-rendering="geometricPrecision" transform="translate(-61.48,0.00) scale(0.03599,-0.03599)" d="M763,0L583,0L583,1147Q520,1087 418,1027Q316,967 222,930L222,1104Q370,1173 481,1274Q592,1375 646,1466L763,1466Z"/><text x="-20.49" y="0.00" font-size="73.70">00</text></g>
<g transform="translate(1366.00,2025.60) scale(1.0370,1)"><path shape-rendering="geometricPrecision" transform="translate(-61.48,0.00) scale(0.03599,-0.03599)" d="M763,0L583,0L583,1147Q520,1087 418,1027Q316,967 222,930L222,1104Q370,1173 481,1274Q592,1375 646,1466L763,1466Z"/><text x="-20.49" y="0.00" font-size="73.70">20</text></g>
<g transform="translate(652.58,2115.90) scale(1.0930,1)"><text x="0.00" y="0.00" font-size="92.53">Time / min</text></g>
<g transform="translate(195.33,1804.83) rotate(-90) scale(1.0450,1)"><text x="0.00" y="0.00" font-size="93.05">[HCHO] / </text><g shape-rendering="geometricPrecision" transform="translate(403.25,0.00) scale(93.05434,-93.05434)" fill="none" stroke="#000"><path d="M0.065,0.497V-0.035" stroke-width="0.09"/><path d="M0.3845,0.497V0.12" stroke-width="0.091"/><path d="M0.065,0.22C0.065,0.03 0.17,0.025 0.235,0.025C0.33,0.025 0.3845,0.08 0.3845,0.22" stroke-width="0.08"/><path d="M0.405,0.14C0.42,0.01 0.47,-0.005 0.50,-0.005C0.55,-0.005 0.56,0.06 0.555,0.105" stroke-width="0.035" stroke-linecap="round"/><path d="M0.058,-0.03L0.048,-0.08" stroke-width="0.045"/><ellipse cx="0.042" cy="-0.145" rx="0.05" ry="0.072" fill="#000" stroke="none"/></g><text x="452.85" y="0.00" font-size="93.05">M</text></g>
<g transform="translate(28.67,1115.68) scale(1.0203,1)"><text x="0.00" y="0.00" font-size="88.98">(b)</text></g>
<path d="M412.5 1858.1L412.8 1849.6M413.8 1819.0L414.1 1810.1M421.7 1681.1L422.2 1676.2M433.3 1596.4L434.5 1583.1M439.2 1552.9L440.4 1547.3M462.7 1502.1L480.5 1484.9M504.9 1466.7L557.6 1437.3M586.1 1427.0L635.4 1417.8M665.5 1411.9L754.7 1393.8M785.0 1388.8L873.8 1377.4M904.2 1373.2L1032.8 1353.7M1063.3 1351.9L1191.7 1355.9M1222.1 1353.6L1350.9 1329.6" fill="none" stroke="#FF0000" stroke-width="6.9" stroke-linecap="round"/>
<g fill="#FF0000"><rect x="401.5" y="1863.9" width="21.0" height="19.0"/><rect x="402.8" y="1824.8" width="21.0" height="19.0"/><rect x="404.1" y="1785.3" width="21.0" height="19.0"/><rect x="405.5" y="1759.7" width="21.0" height="19.0"/><rect x="406.8" y="1731.3" width="21.0" height="19.0"/><rect x="408.1" y="1706.7" width="21.0" height="19.0"/><rect x="409.4" y="1686.8" width="21.0" height="19.0"/><rect x="413.4" y="1651.5" width="21.0" height="19.0"/><rect x="417.4" y="1627.2" width="21.0" height="19.0"/><rect x="421.4" y="1602.2" width="21.0" height="19.0"/><rect x="425.4" y="1558.4" width="21.0" height="19.0"/><rect x="433.3" y="1522.8" width="21.0" height="19.0"/><rect x="441.2" y="1503.4" width="21.0" height="19.0"/><rect x="481.0" y="1464.6" width="21.0" height="19.0"/><rect x="560.5" y="1420.4" width="21.0" height="19.0"/><rect x="640.0" y="1405.5" width="21.0" height="19.0"/><rect x="759.2" y="1381.3" width="21.0" height="19.0"/><rect x="878.5" y="1366.0" width="21.0" height="19.0"/><rect x="1037.5" y="1341.9" width="21.0" height="19.0"/><rect x="1196.5" y="1346.9" width="21.0" height="19.0"/><rect x="1355.5" y="1317.3" width="21.0" height="19.0"/></g>
<line x1="1086.7" y1="1197.4" x2="1209.7" y2="1197.4" stroke="#FF0000" stroke-width="6.7" stroke-linecap="round"/>
<rect x="1137.1" y="1186.4" width="23" height="22" fill="#fff"/>
<g fill="#FF0000"><rect x="1138.1" y="1187.9" width="21.0" height="19.0"/></g>
<g transform="translate(1223.66,1214.78) scale(1.0485,1)"><text x="0.00" y="0.00" font-size="53.25">622 nm</text></g>
<rect x="335.50" y="2222.00" width="1141.50" height="919.80" fill="none" stroke="#000" stroke-width="7.50" stroke-linejoin="miter"/>
<rect x="446.25" y="3124.05" width="7.50" height="17.75"/>
<rect x="674.50" y="3124.05" width="7.50" height="17.75"/>
<rect x="902.75" y="3124.05" width="7.50" height="17.75"/>
<rect x="1131.00" y="3124.05" width="7.50" height="17.75"/>
<rect x="1359.25" y="3124.05" width="7.50" height="17.75"/>
<rect x="560.38" y="3132.05" width="7.50" height="9.75"/>
<rect x="788.62" y="3132.05" width="7.50" height="9.75"/>
<rect x="1016.88" y="3132.05" width="7.50" height="9.75"/>
<rect x="1245.12" y="3132.05" width="7.50" height="9.75"/>
<rect x="335.50" y="3046.05" width="17.75" height="7.50"/>
<rect x="335.50" y="2862.10" width="17.75" height="7.50"/>
<rect x="335.50" y="2678.15" width="17.75" height="7.50"/>
<rect x="335.50" y="2494.20" width="17.75" height="7.50"/>
<rect x="335.50" y="2310.25" width="17.75" height="7.50"/>
<rect x="335.50" y="2954.08" width="9.75" height="7.50"/>
<rect x="335.50" y="2770.12" width="9.75" height="7.50"/>
<rect x="335.50" y="2586.18" width="9.75" height="7.50"/>
<rect x="335.50" y="2402.23" width="9.75" height="7.50"/>
<g transform="translate(315.30,3073.66) scale(0.9700,1)"><text x="-44.21" y="0.00" font-size="79.50">0</text></g>
<g transform="translate(315.30,2889.71) scale(0.9700,1)"><text x="-44.21" y="0.00" font-size="79.50">5</text></g>
<g transform="translate(315.30,2705.76) scale(0.9700,1)"><path shape-rendering="geometricPrecision" transform="translate(-88.43,0.00) scale(0.03882,-0.03882)" d="M763,0L583,0L583,1147Q520,1087 418,1027Q316,967 222,930L222,1104Q370,1173 481,1274Q592,1375 646,1466L763,1466Z"/><text x="-44.21" y="0.00" font-size="79.50">0</text></g>
<g transform="translate(315.30,2521.81) scale(0.9700,1)"><path shape-rendering="geometricPrecision" transform="translate(-88.43,0.00) scale(0.03882,-0.03882)" d="M763,0L583,0L583,1147Q520,1087 418,1027Q316,967 222,930L222,1104Q370,1173 481,1274Q592,1375 646,1466L763,1466Z"/><text x="-44.21" y="0.00" font-size="79.50">5</text></g>
<g transform="translate(315.30,2337.86) scale(0.9700,1)"><text x="-88.43" y="0.00" font-size="79.50">20</text></g>
<g transform="translate(450.00,3223.70) scale(0.9700,1)"><text x="-22.11" y="0.00" font-size="79.50">0</text></g>
<g transform="translate(678.25,3223.70) scale(0.9700,1)"><text x="-44.21" y="0.00" font-size="79.50">50</text></g>
<g transform="translate(906.50,3223.70) scale(0.9700,1)"><path shape-rendering="geometricPrecision" transform="translate(-66.32,0.00) scale(0.03882,-0.03882)" d="M763,0L583,0L583,1147Q520,1087 418,1027Q316,967 222,930L222,1104Q370,1173 481,1274Q592,1375 646,1466L763,1466Z"/><text x="-22.11" y="0.00" font-size="79.50">00</text></g>
<g transform="translate(1134.75,3223.70) scale(0.9700,1)"><path shape-rendering="geometricPrecision" transform="translate(-66.32,0.00) scale(0.03882,-0.03882)" d="M763,0L583,0L583,1147Q520,1087 418,1027Q316,967 222,930L222,1104Q370,1173 481,1274Q592,1375 646,1466L763,1466Z"/><text x="-22.11" y="0.00" font-size="79.50">50</text></g>
<g transform="translate(1363.00,3223.70) scale(0.9700,1)"><text x="-66.32" y="0.00" font-size="79.50">200</text></g>
<g transform="translate(663.67,3345.90) scale(1.0189,1)"><text x="0.00" y="0.00" font-size="101.99">Time / min</text></g>
<g transform="translate(194.82,2944.66) rotate(-90) scale(1.0285,1)"><text x="0.00" y="0.00" font-size="104.49">[CO] / ppm</text></g>
<g transform="translate(75.33,2232.42) scale(1.0303,1)"><text x="0.00" y="0.00" font-size="88.77">(c)</text></g>
<polyline fill="none" stroke="#0000FF" stroke-width="7.8" stroke-linejoin="round" points="449.4,3049.8 449.4,3049.8 449.4,3049.8 449.5,3049.7 449.5,3049.6 449.7,3049.4 449.9,3049.0 450.2,3048.6 450.5,3048.0 451.0,3047.2 451.6,3046.3 452.4,3045.1 453.2,3043.7 454.3,3042.0 455.5,3040.1 456.8,3038.0 458.2,3035.7 459.7,3033.3 461.2,3030.6 462.8,3027.9 464.4,3025.0 466.0,3022.1 467.6,3019.1 469.2,3016.1 470.6,3013.0 472.1,3009.9 473.4,3006.9 474.7,3003.8 476.0,3000.7 477.1,2997.7 478.3,2994.6 479.4,2991.5 480.4,2988.5 481.5,2985.4 482.5,2982.4 483.5,2979.3 484.5,2976.2 485.5,2973.2 486.5,2970.1 487.5,2967.0 488.5,2964.0 489.5,2960.9 490.5,2957.8 491.6,2954.8 492.6,2951.7 493.6,2948.6 494.7,2945.6 495.8,2942.5 496.8,2939.4 497.9,2936.4 499.0,2933.3 500.1,2930.2 501.3,2927.2 502.4,2924.1 503.6,2921.0 504.8,2918.0 506.0,2914.9 507.2,2911.8 508.5,2908.8 509.7,2905.7 511.0,2902.6 512.3,2899.6 513.6,2896.5 515.0,2893.4 516.3,2890.4 517.6,2887.3 519.0,2884.2 520.4,2881.2 521.7,2878.1 523.0,2875.0 524.4,2872.0 525.7,2868.9 527.0,2865.9 528.3,2862.8 529.5,2859.7 530.7,2856.7 532.0,2853.6 533.2,2850.5 534.3,2847.5 535.5,2844.4 536.6,2841.3 537.7,2838.3 538.8,2835.2 539.9,2832.1 540.9,2829.1 541.9,2826.0 542.9,2822.9 544.0,2819.9 545.0,2816.8 546.1,2813.7 547.2,2810.7 548.4,2807.6 549.6,2804.5 551.0,2801.5 552.4,2798.4 553.9,2795.3 555.6,2792.3 557.4,2789.2 559.4,2786.1 561.4,2783.1 563.5,2780.0 565.8,2776.9 568.1,2773.9 570.4,2770.8 572.8,2767.7 575.3,2764.7 577.8,2761.6 580.2,2758.5 582.7,2755.5 585.2,2752.4 587.6,2749.3 590.1,2746.3 592.5,2743.2 594.9,2740.2 597.2,2737.1 599.6,2734.0 601.9,2731.0 604.3,2727.9 606.6,2724.8 608.9,2721.8 611.1,2718.7 613.4,2715.6 615.6,2712.6 617.8,2709.5 620.0,2706.4 622.1,2703.4 624.2,2700.3 626.3,2697.2 628.4,2694.2 630.4,2691.1 632.4,2688.0 634.4,2685.0 636.3,2681.9 638.2,2678.8 640.0,2675.8 641.8,2672.7 643.6,2669.6 645.4,2666.6 647.1,2663.5 648.8,2660.4 650.5,2657.4 652.2,2654.3 653.8,2651.2 655.5,2648.2 657.1,2645.1 658.8,2642.0 660.4,2639.0 662.0,2635.9 663.6,2632.8 665.3,2629.8 666.9,2626.7 668.5,2623.6 670.1,2620.6 671.8,2617.5 673.4,2614.5 675.1,2611.4 676.8,2608.3 678.5,2605.3 680.2,2602.2 681.9,2599.1 683.7,2596.1 685.6,2593.0 687.5,2589.9 689.4,2586.9 691.5,2583.8 693.6,2580.7 695.8,2577.7 698.1,2574.6 700.6,2571.5 703.1,2568.5 705.8,2565.4 708.5,2562.3 711.3,2559.3 714.1,2556.2 717.0,2553.1 719.9,2550.1 722.7,2547.0 725.6,2543.9 728.4,2540.9 731.1,2537.8 733.8,2534.7 736.3,2531.7 738.8,2528.6 741.2,2525.5 743.7,2522.5 746.2,2519.4 748.8,2516.3 751.6,2513.3 754.4,2510.2 757.5,2507.1 760.8,2504.1 764.4,2501.0 768.3,2498.0 772.5,2494.9 777.1,2491.8 781.8,2488.8 786.9,2485.7 792.0,2482.6 797.4,2479.6 802.8,2476.5 808.3,2473.4 813.7,2470.4 819.2,2467.3 824.6,2464.2 829.8,2461.2 835.0,2458.1 840.1,2455.0 845.3,2452.0 850.6,2448.9 856.3,2445.8 862.4,2442.8 869.0,2439.7 876.2,2436.6 884.3,2433.6 893.2,2430.5 903.1,2427.4 914.1,2424.4 926.3,2421.3 939.6,2418.2 953.9,2415.2 969.0,2412.1 984.9,2409.0 1001.4,2406.0 1018.3,2402.9 1035.7,2399.8 1053.3,2396.8 1071.0,2393.7 1088.8,2390.6 1106.4,2387.6 1123.8,2384.5 1140.8,2381.5 1157.6,2378.5 1173.9,2375.5 1189.8,2372.7 1205.1,2370.0 1219.8,2367.3 1233.9,2364.9 1247.3,2362.6 1259.9,2360.5 1271.7,2358.6 1282.7,2356.9 1292.7,2355.5 1301.8,2354.3 1310.1,2353.4 1317.6,2352.6 1324.3,2352.0 1330.3,2351.6 1335.6,2351.2 1340.3,2351.0 1344.4,2350.9 1348.0,2350.8 1351.1,2350.8 1353.8,2350.8 1356.0,2350.8 1357.9,2350.8 1359.4,2350.8 1360.6,2350.8 1361.6,2350.8 1362.3,2350.8 1362.8,2350.8 1363.1,2350.8 1363.3,2350.8 1363.5,2350.8 1363.5,2350.8 1363.5,2350.8"/>
<g fill="#0000FF"><rect x="438.9" y="3039.3" width="21.0" height="21.0"/><rect x="462.0" y="3002.5" width="21.0" height="21.0"/><rect x="474.0" y="2965.7" width="21.0" height="21.0"/><rect x="486.0" y="2928.9" width="21.0" height="21.0"/><rect x="500.0" y="2892.1" width="21.0" height="21.0"/><rect x="517.0" y="2855.4" width="21.0" height="21.0"/><rect x="530.9" y="2818.6" width="21.0" height="21.0"/><rect x="541.8" y="2781.8" width="21.0" height="21.0"/><rect x="572.6" y="2745.0" width="21.0" height="21.0"/><rect x="601.1" y="2708.2" width="21.0" height="21.0"/><rect x="626.7" y="2671.4" width="21.0" height="21.0"/><rect x="646.8" y="2634.6" width="21.0" height="21.0"/><rect x="665.9" y="2597.8" width="21.0" height="21.0"/><rect x="687.2" y="2561.0" width="21.0" height="21.0"/><rect x="725.7" y="2524.2" width="21.0" height="21.0"/><rect x="749.5" y="2487.5" width="21.0" height="21.0"/><rect x="823.1" y="2450.7" width="21.0" height="21.0"/><rect x="874.2" y="2413.9" width="21.0" height="21.0"/><rect x="1101.6" y="2377.1" width="21.0" height="21.0"/><rect x="1294.6" y="2340.3" width="21.0" height="21.0"/><rect x="1353.0" y="2340.3" width="21.0" height="21.0"/></g>
<path d="M714.1 3049.8L719.8 3049.8M776.4 3049.8L817.2 3049.8M850.0 3049.8L868.3 3049.8M901.1 3049.8L1095.7 3049.8M1128.5 3049.8L1288.7 3049.8M1321.5 3049.8L1347.1 3049.8" fill="none" stroke="#FF0000" stroke-width="7.8" stroke-linecap="round"/>
<g fill="#FF0000"><rect x="438.9" y="3039.3" width="21.0" height="21.0"/><rect x="462.0" y="3039.3" width="21.0" height="21.0"/><rect x="474.0" y="3039.3" width="21.0" height="21.0"/><rect x="486.0" y="3039.3" width="21.0" height="21.0"/><rect x="500.0" y="3039.3" width="21.0" height="21.0"/><rect x="517.0" y="3039.3" width="21.0" height="21.0"/><rect x="530.9" y="3039.3" width="21.0" height="21.0"/><rect x="541.8" y="3039.3" width="21.0" height="21.0"/><rect x="572.6" y="3039.3" width="21.0" height="21.0"/><rect x="601.1" y="3039.3" width="21.0" height="21.0"/><rect x="626.7" y="3039.3" width="21.0" height="21.0"/><rect x="646.8" y="3039.3" width="21.0" height="21.0"/><rect x="665.9" y="3039.3" width="21.0" height="21.0"/><rect x="687.2" y="3039.3" width="21.0" height="21.0"/><rect x="725.7" y="3039.3" width="21.0" height="21.0"/><rect x="749.5" y="3039.3" width="21.0" height="21.0"/><rect x="823.1" y="3039.3" width="21.0" height="21.0"/><rect x="874.2" y="3039.3" width="21.0" height="21.0"/><rect x="1101.6" y="3039.3" width="21.0" height="21.0"/><rect x="1294.6" y="3039.3" width="21.0" height="21.0"/><rect x="1353.0" y="3039.3" width="21.0" height="21.0"/></g>
<line x1="1008.9" y1="2726.7" x2="1133.5" y2="2726.7" stroke="#0000FF" stroke-width="8.1" stroke-linecap="round"/>
<rect x="1059.4" y="2715.2" width="24" height="23" fill="#fff"/>
<g fill="#0000FF"><rect x="1060.9" y="2716.1" width="21.2" height="21.1"/></g>
<line x1="1008.9" y1="2796.2" x2="1133.5" y2="2796.2" stroke="#FF0000" stroke-width="8.1" stroke-linecap="round"/>
<rect x="1059.4" y="2784.7" width="24" height="23" fill="#fff"/>
<g fill="#FF0000"><rect x="1060.9" y="2785.6" width="21.2" height="21.1"/></g>
<g transform="translate(1151.19,2746.44) scale(0.9831,1)"><text x="0.00" y="0.00" font-size="57.20">PCOFA</text></g>
<g transform="translate(1150.32,2816.18) scale(0.9653,1)"><text x="0.00" y="0.00" font-size="59.11">H</text><text x="42.69" y="14.42" font-size="39.90">2</text><text x="64.88" y="0.00" font-size="59.11">O</text></g>
</svg></body></html>
